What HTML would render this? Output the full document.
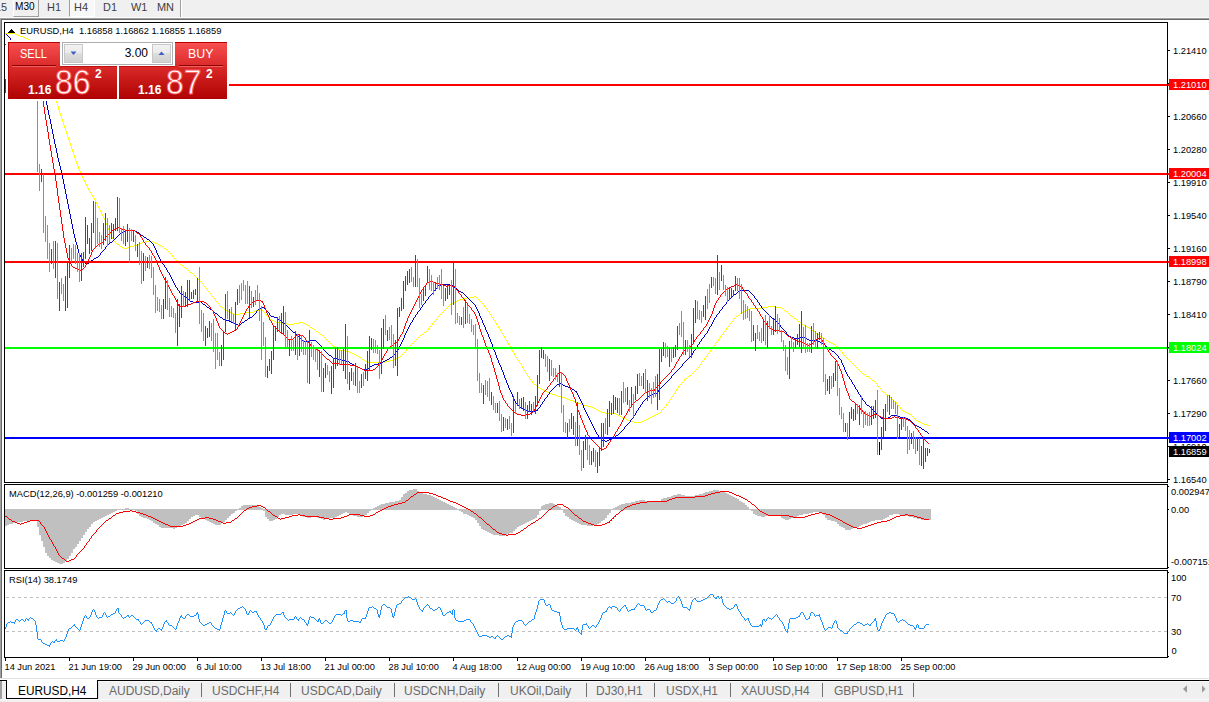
<!DOCTYPE html>
<html><head><meta charset="utf-8"><title>EURUSD,H4</title>
<style>
html,body{margin:0;padding:0;}
body{width:1209px;height:702px;background:#fff;position:relative;overflow:hidden;font-family:"Liberation Sans",sans-serif;}
.abs{position:absolute;}
#tb{left:0;top:0;width:1209px;height:18px;background:#f0f0f0;}
#tb span{position:absolute;top:0.5px;font-size:10.5px;line-height:12px;color:#404040;white-space:nowrap;transform-origin:0 0;transform:scaleX(1.04);}
#m30{left:13px;top:-2px;width:24px;height:17px;border:1px solid;border-color:#fff #a0a0a0 #a0a0a0 #fff;background:#f0f0f0;}
#h4{left:69px;top:-1px;width:24px;height:16px;background:#f8f8f8;border:1px solid;border-color:#a0a0a0 #fff #fff #a0a0a0;}
#chart{left:0;top:0;}
#tabs{left:0;top:679px;width:1209px;height:23px;background:#f0f0f0;}
#tabs span{position:absolute;top:5px;font-size:12px;line-height:14px;color:#6a6a6a;white-space:nowrap;}
#tabs i{position:absolute;top:4px;width:1px;height:14px;background:#707070;}
.pan{background:linear-gradient(#fa5050,#d62626 48%,#b00202);}
.pan b{position:absolute;color:#fff;font-weight:bold;font-size:12px;line-height:12px;}
.pan em{position:absolute;color:#fff;font-style:normal;font-size:34px;line-height:34px;transform-origin:0 0;transform:scaleX(.9);letter-spacing:0px;}
.lbl{position:absolute;color:#fff;font-size:12.5px;line-height:12px;transform-origin:0 0;transform:scaleX(.88);}
</style></head><body>
<div id="tb" class="abs">
  <div id="m30" class="abs"></div><div id="h4" class="abs"></div>
  <span style="left:-5px">15</span>
  <span style="left:15px;top:-0.5px;color:#000;transform:scaleX(.96)">M30</span>
  <span style="left:46.5px">H1</span>
  <span style="left:74px">H4</span>
  <span style="left:103px">D1</span>
  <span style="left:131px">W1</span>
  <span style="left:157px">MN</span>
  <div class="abs" style="left:180px;top:0;width:1px;height:18px;background:#a0a0a0"></div>
  <div class="abs" style="left:181px;top:0;width:1px;height:18px;background:#fff"></div>
</div>
<div class="abs" style="left:0;top:17px;width:1209px;height:1px;background:#fbfbfb"></div>
<div class="abs" style="left:0;top:18px;width:1209px;height:1px;background:#a0a0a0"></div>
<div class="abs" style="left:1px;top:19px;width:1208px;height:1px;background:#696969"></div>
<div class="abs" style="left:0;top:18px;width:1px;height:660px;background:#a0a0a0"></div>
<div class="abs" style="left:1px;top:19px;width:1px;height:659px;background:#696969"></div>
<svg id="chart" class="abs" width="1209" height="702" viewBox="0 0 1209 702">
<defs><clipPath id="cm"><rect x="5" y="23" width="1162" height="459"/></clipPath><clipPath id="cd"><rect x="5" y="485" width="1162" height="83"/></clipPath></defs>
<g clip-path="url(#cm)"><path d="M5.5 33V34M6.5 33V34M7.5 33V34M8.5 33V34M9.5 33V34M10.5 33V34M11.5 33V34M12.5 33V34M13.5 33V34M14.5 33V34M15.5 34V35M16.5 34V35M17.5 35V36M18.5 35V36M19.5 35V36M20.5 36V37M21.5 36V37M22.5 36V37M23.5 37V38M24.5 37V38M25.5 38V39M26.5 38V39M27.5 38V39M28.5 39V40M29.5 39V40M30.5 40V42M31.5 42V44M32.5 44V47M33.5 47V49M34.5 49V51M35.5 51V54M36.5 54V56M37.5 56V58M38.5 58V61M39.5 61V63M40.5 63V65M41.5 65V68M42.5 68V70M43.5 70V72M44.5 72V75M45.5 75V77M46.5 77V79M47.5 79V82M48.5 82V84M49.5 84V86M50.5 86V89M51.5 89V91M52.5 91V93M53.5 93V96M54.5 96V98M55.5 98V101M56.5 101V103M57.5 103V106M58.5 106V110M59.5 110V113M60.5 113V116M61.5 116V119M62.5 119V122M63.5 122V125M64.5 125V128M65.5 128V131M66.5 131V134M67.5 134V137M68.5 137V140M69.5 140V143M70.5 143V146M71.5 146V149M72.5 149V152M73.5 152V155M74.5 155V158M75.5 158V161M76.5 161V164M77.5 164V166M78.5 166V169M79.5 169V171M80.5 171V174M81.5 174V176M82.5 176V178M83.5 178V180M84.5 180V182M85.5 182V184M86.5 184V186M87.5 186V188M88.5 188V190M89.5 190V192M90.5 192V193M91.5 193V195M92.5 195V197M93.5 197V198M94.5 198V200M95.5 200V202M96.5 202V204M97.5 204V206M98.5 206V208M99.5 208V210M100.5 210V212M101.5 212V214M102.5 214V216M103.5 216V218M104.5 218V220M105.5 220V223M106.5 223V225M107.5 225V228M108.5 228V230M109.5 230V232M110.5 232V234M111.5 234V237M112.5 237V239M113.5 239V241M114.5 241V242M115.5 242V243M116.5 243V244M117.5 244V245M118.5 244V245M119.5 245V246M120.5 246V247M121.5 246V247M122.5 247V248M123.5 247V248M124.5 248V249M125.5 248V249M126.5 248V249M127.5 247V248M128.5 247V248M129.5 247V248M130.5 246V247M131.5 246V247M132.5 246V247M133.5 246V247M134.5 245V246M135.5 245V246M136.5 245V246M137.5 244V245M138.5 244V245M139.5 244V245M140.5 243V244M141.5 243V244M142.5 242V243M143.5 242V243M144.5 242V243M145.5 241V242M146.5 241V242M147.5 241V242M148.5 241V242M149.5 241V242M150.5 241V242M151.5 241V242M152.5 241V242M153.5 242V243M154.5 242V243M155.5 243V244M156.5 243V244M157.5 243V244M158.5 244V245M159.5 245V246M160.5 245V246M161.5 246V247M162.5 246V247M163.5 247V248M164.5 248V249M165.5 248V249M166.5 249V250M167.5 250V251M168.5 251V252M169.5 252V253M170.5 253V254M171.5 254V255M172.5 255V257M173.5 257V258M174.5 258V259M175.5 259V260M176.5 260V261M177.5 261V262M178.5 262V263M179.5 263V264M180.5 264V265M181.5 265V266M182.5 265V266M183.5 266V267M184.5 267V268M185.5 268V269M186.5 268V269M187.5 269V270M188.5 270V271M189.5 271V272M190.5 272V273M191.5 272V273M192.5 273V274M193.5 274V275M194.5 275V276M195.5 276V277M196.5 277V278M197.5 278V279M198.5 279V280M199.5 280V281M200.5 281V282M201.5 282V283M202.5 283V284M203.5 284V286M204.5 286V287M205.5 287V288M206.5 288V289M207.5 289V291M208.5 291V292M209.5 292V293M210.5 293V294M211.5 294V296M212.5 296V297M213.5 297V298M214.5 298V299M215.5 299V301M216.5 301V302M217.5 302V303M218.5 303V304M219.5 304V306M220.5 306V307M221.5 307V308M222.5 307V308M223.5 308V309M224.5 309V310M225.5 309V310M226.5 310V311M227.5 310V311M228.5 311V312M229.5 311V312M230.5 312V313M231.5 313V314M232.5 313V314M233.5 314V315M234.5 314V315M235.5 314V315M236.5 314V315M237.5 314V315M238.5 314V315M239.5 314V315M240.5 313V314M241.5 313V314M242.5 313V314M243.5 313V314M244.5 313V314M245.5 313V314M246.5 312V313M247.5 312V313M248.5 312V313M249.5 312V313M250.5 312V313M251.5 312V313M252.5 312V313M253.5 312V313M254.5 311V312M255.5 311V312M256.5 310V311M257.5 310V311M258.5 310V311M259.5 309V310M260.5 309V310M261.5 309V310M262.5 310V311M263.5 311V312M264.5 312V313M265.5 313V314M266.5 314V316M267.5 316V317M268.5 317V318M269.5 318V319M270.5 319V320M271.5 319V320M272.5 320V321M273.5 320V321M274.5 321V322M275.5 321V322M276.5 322V323M277.5 322V323M278.5 322V323M279.5 322V323M280.5 322V323M281.5 322V323M282.5 323V324M283.5 323V324M284.5 323V324M285.5 323V324M286.5 323V324M287.5 324V325M288.5 324V325M289.5 324V325M290.5 324V325M291.5 324V325M292.5 324V325M293.5 324V325M294.5 323V324M295.5 323V324M296.5 323V324M297.5 323V324M298.5 323V324M299.5 322V323M300.5 322V323M301.5 322V323M302.5 322V323M303.5 323V324M304.5 323V324M305.5 324V325M306.5 324V325M307.5 325V326M308.5 325V326M309.5 326V327M310.5 327V328M311.5 327V328M312.5 328V329M313.5 328V329M314.5 329V330M315.5 330V331M316.5 331V332M317.5 331V332M318.5 332V333M319.5 333V334M320.5 334V335M321.5 334V335M322.5 335V336M323.5 336V337M324.5 337V338M325.5 338V339M326.5 339V340M327.5 340V341M328.5 341V342M329.5 342V343M330.5 343V344M331.5 344V345M332.5 345V346M333.5 346V347M334.5 346V347M335.5 347V348M336.5 348V349M337.5 349V350M338.5 349V350M339.5 350V351M340.5 350V351M341.5 350V351M342.5 350V351M343.5 350V351M344.5 350V351M345.5 351V352M346.5 351V352M347.5 351V352M348.5 351V352M349.5 352V353M350.5 352V353M351.5 353V354M352.5 353V354M353.5 353V354M354.5 354V355M355.5 354V355M356.5 355V356M357.5 355V356M358.5 356V357M359.5 357V358M360.5 357V358M361.5 358V359M362.5 359V360M363.5 359V360M364.5 360V361M365.5 361V362M366.5 361V362M367.5 362V363M368.5 362V363M369.5 362V363M370.5 362V363M371.5 362V363M372.5 362V363M373.5 362V363M374.5 362V363M375.5 362V363M376.5 362V363M377.5 362V363M378.5 362V363M379.5 362V363M380.5 362V363M381.5 362V363M382.5 362V363M383.5 362V363M384.5 362V363M385.5 361V362M386.5 361V362M387.5 361V362M388.5 361V362M389.5 360V361M390.5 360V361M391.5 360V361M392.5 360V361M393.5 359V360M394.5 359V360M395.5 359V360M396.5 358V359M397.5 358V359M398.5 357V358M399.5 357V358M400.5 356V357M401.5 355V356M402.5 354V355M403.5 353V354M404.5 352V353M405.5 351V352M406.5 349V351M407.5 348V349M408.5 347V348M409.5 346V347M410.5 345V346M411.5 344V345M412.5 343V344M413.5 342V343M414.5 341V342M415.5 340V341M416.5 339V340M417.5 338V339M418.5 337V338M419.5 336V337M420.5 335V336M421.5 334V335M422.5 334V335M423.5 333V334M424.5 332V333M425.5 332V333M426.5 331V332M427.5 330V331M428.5 328V330M429.5 327V328M430.5 326V327M431.5 325V326M432.5 323V325M433.5 322V323M434.5 321V322M435.5 320V321M436.5 319V320M437.5 317V319M438.5 316V317M439.5 315V316M440.5 314V315M441.5 313V314M442.5 312V313M443.5 311V312M444.5 310V311M445.5 309V310M446.5 308V309M447.5 307V308M448.5 306V307M449.5 305V306M450.5 304V305M451.5 304V305M452.5 303V304M453.5 302V303M454.5 302V303M455.5 301V302M456.5 301V302M457.5 300V301M458.5 300V301M459.5 299V300M460.5 299V300M461.5 299V300M462.5 299V300M463.5 299V300M464.5 298V299M465.5 298V299M466.5 298V299M467.5 298V299M468.5 298V299M469.5 297V298M470.5 297V298M471.5 297V298M472.5 297V298M473.5 297V298M474.5 296V297M475.5 296V297M476.5 297V298M477.5 298V299M478.5 299V300M479.5 300V301M480.5 301V302M481.5 302V303M482.5 303V304M483.5 304V305M484.5 305V307M485.5 307V308M486.5 308V309M487.5 309V311M488.5 311V312M489.5 312V314M490.5 314V315M491.5 315V317M492.5 317V318M493.5 318V320M494.5 320V321M495.5 321V323M496.5 323V325M497.5 325V326M498.5 326V328M499.5 328V329M500.5 329V331M501.5 331V333M502.5 333V334M503.5 334V336M504.5 336V338M505.5 338V340M506.5 340V341M507.5 341V343M508.5 343V345M509.5 345V346M510.5 346V348M511.5 348V350M512.5 350V352M513.5 352V353M514.5 353V355M515.5 355V357M516.5 357V358M517.5 358V360M518.5 360V361M519.5 361V363M520.5 363V364M521.5 364V366M522.5 366V368M523.5 368V370M524.5 370V371M525.5 371V373M526.5 373V374M527.5 374V376M528.5 376V377M529.5 377V379M530.5 379V380M531.5 380V381M532.5 381V383M533.5 383V384M534.5 384V385M535.5 384V385M536.5 385V386M537.5 386V387M538.5 387V388M539.5 387V388M540.5 388V389M541.5 389V390M542.5 389V390M543.5 390V391M544.5 390V391M545.5 391V392M546.5 391V392M547.5 392V393M548.5 392V393M549.5 392V393M550.5 393V394M551.5 393V394M552.5 394V395M553.5 394V395M554.5 394V395M555.5 395V396M556.5 395V396M557.5 396V397M558.5 396V397M559.5 396V397M560.5 396V397M561.5 397V398M562.5 397V398M563.5 397V398M564.5 397V398M565.5 398V399M566.5 398V399M567.5 399V400M568.5 399V400M569.5 399V400M570.5 400V401M571.5 400V401M572.5 400V401M573.5 401V402M574.5 401V402M575.5 401V402M576.5 402V403M577.5 402V403M578.5 403V404M579.5 403V404M580.5 403V404M581.5 404V405M582.5 404V405M583.5 404V405M584.5 405V406M585.5 405V406M586.5 405V406M587.5 406V407M588.5 406V407M589.5 406V407M590.5 406V407M591.5 407V408M592.5 407V408M593.5 407V408M594.5 408V409M595.5 408V409M596.5 409V410M597.5 410V411M598.5 410V411M599.5 411V412M600.5 411V412M601.5 412V413M602.5 412V413M603.5 412V413M604.5 412V413M605.5 413V414M606.5 413V414M607.5 413V414M608.5 413V414M609.5 413V414M610.5 413V414M611.5 413V414M612.5 413V414M613.5 413V414M614.5 413V414M615.5 413V414M616.5 414V415M617.5 414V415M618.5 415V416M619.5 415V416M620.5 416V417M621.5 416V417M622.5 417V418M623.5 417V418M624.5 418V419M625.5 418V419M626.5 419V420M627.5 419V420M628.5 420V421M629.5 420V421M630.5 420V421M631.5 421V422M632.5 421V422M633.5 421V422M634.5 422V423M635.5 422V423M636.5 422V423M637.5 422V423M638.5 422V423M639.5 422V423M640.5 422V423M641.5 421V422M642.5 421V422M643.5 421V422M644.5 420V421M645.5 420V421M646.5 419V420M647.5 419V420M648.5 418V419M649.5 418V419M650.5 417V418M651.5 417V418M652.5 416V417M653.5 416V417M654.5 415V416M655.5 415V416M656.5 414V415M657.5 414V415M658.5 413V414M659.5 413V414M660.5 412V413M661.5 410V412M662.5 409V410M663.5 408V409M664.5 407V408M665.5 406V407M666.5 404V406M667.5 403V404M668.5 402V403M669.5 400V402M670.5 399V400M671.5 397V399M672.5 396V397M673.5 394V396M674.5 393V394M675.5 391V393M676.5 389V391M677.5 388V389M678.5 386V388M679.5 385V386M680.5 384V385M681.5 383V384M682.5 382V383M683.5 381V382M684.5 379V381M685.5 378V379M686.5 378V379M687.5 377V378M688.5 376V377M689.5 375V376M690.5 375V376M691.5 374V375M692.5 373V374M693.5 372V373M694.5 371V372M695.5 370V371M696.5 369V370M697.5 368V369M698.5 367V368M699.5 365V367M700.5 364V365M701.5 362V364M702.5 361V362M703.5 360V361M704.5 358V360M705.5 357V358M706.5 356V357M707.5 354V356M708.5 353V354M709.5 352V353M710.5 350V352M711.5 349V350M712.5 348V349M713.5 346V348M714.5 345V346M715.5 343V345M716.5 342V343M717.5 341V342M718.5 339V341M719.5 338V339M720.5 336V338M721.5 335V336M722.5 334V335M723.5 332V334M724.5 331V332M725.5 330V331M726.5 328V330M727.5 327V328M728.5 326V327M729.5 324V326M730.5 323V324M731.5 322V323M732.5 321V322M733.5 319V321M734.5 318V319M735.5 317V318M736.5 316V317M737.5 316V317M738.5 315V316M739.5 314V315M740.5 313V314M741.5 312V313M742.5 312V313M743.5 311V312M744.5 311V312M745.5 310V311M746.5 310V311M747.5 309V310M748.5 309V310M749.5 309V310M750.5 308V309M751.5 308V309M752.5 308V309M753.5 308V309M754.5 308V309M755.5 308V309M756.5 308V309M757.5 308V309M758.5 308V309M759.5 308V309M760.5 308V309M761.5 307V308M762.5 307V308M763.5 307V308M764.5 307V308M765.5 307V308M766.5 307V308M767.5 307V308M768.5 306V307M769.5 306V307M770.5 306V307M771.5 306V307M772.5 306V307M773.5 306V307M774.5 306V307M775.5 307V308M776.5 307V308M777.5 307V308M778.5 307V308M779.5 307V308M780.5 307V308M781.5 308V309M782.5 308V309M783.5 309V310M784.5 310V311M785.5 311V312M786.5 311V312M787.5 312V313M788.5 313V314M789.5 314V315M790.5 315V316M791.5 316V317M792.5 316V317M793.5 317V318M794.5 318V319M795.5 318V319M796.5 319V320M797.5 320V321M798.5 321V322M799.5 321V322M800.5 322V323M801.5 323V324M802.5 324V325M803.5 324V325M804.5 325V326M805.5 326V327M806.5 326V327M807.5 327V328M808.5 327V328M809.5 328V329M810.5 328V329M811.5 329V330M812.5 330V331M813.5 331V332M814.5 331V332M815.5 332V333M816.5 333V334M817.5 334V335M818.5 334V335M819.5 335V336M820.5 336V337M821.5 337V338M822.5 337V338M823.5 338V339M824.5 338V339M825.5 339V340M826.5 340V341M827.5 340V341M828.5 341V342M829.5 342V343M830.5 342V343M831.5 343V344M832.5 343V344M833.5 344V345M834.5 344V345M835.5 345V346M836.5 346V347M837.5 347V348M838.5 348V349M839.5 349V350M840.5 350V351M841.5 351V352M842.5 352V354M843.5 354V355M844.5 355V356M845.5 356V357M846.5 357V358M847.5 358V359M848.5 359V360M849.5 360V361M850.5 361V362M851.5 362V363M852.5 363V364M853.5 364V365M854.5 365V366M855.5 366V367M856.5 367V368M857.5 368V369M858.5 369V370M859.5 370V371M860.5 371V372M861.5 372V373M862.5 373V374M863.5 374V375M864.5 374V375M865.5 375V376M866.5 376V377M867.5 376V377M868.5 376V377M869.5 377V378M870.5 378V379M871.5 379V380M872.5 380V381M873.5 380V381M874.5 381V382M875.5 382V383M876.5 383V384M877.5 384V386M878.5 386V387M879.5 387V388M880.5 388V389M881.5 389V391M882.5 391V392M883.5 392V393M884.5 392V393M885.5 393V394M886.5 394V395M887.5 395V396M888.5 395V396M889.5 396V397M890.5 397V398M891.5 398V399M892.5 399V400M893.5 400V401M894.5 401V402M895.5 401V402M896.5 402V404M897.5 404V405M898.5 405V406M899.5 406V407M900.5 407V409M901.5 409V410M902.5 410V411M903.5 411V412M904.5 411V412M905.5 412V413M906.5 412V413M907.5 413V414M908.5 413V414M909.5 414V415M910.5 414V415M911.5 415V416M912.5 416V417M913.5 417V418M914.5 418V419M915.5 419V420M916.5 420V421M917.5 420V421M918.5 421V422M919.5 421V422M920.5 422V423M921.5 422V423M922.5 423V424M923.5 423V424M924.5 424V425M925.5 424V425M926.5 424V425M927.5 425V426M928.5 425V426" stroke="#ffff00" stroke-width="1" fill="none" shape-rendering="crispEdges"/></g>
<g clip-path="url(#cm)"><path d="M6.5 34V35M7.5 35V36M8.5 36V37M9.5 37V38M10.5 38V40M11.5 40V41M12.5 41V43M13.5 43V45M14.5 45V46M15.5 46V48M16.5 48V50M17.5 50V52M18.5 52V53M19.5 53V55M20.5 55V57M21.5 57V59M22.5 59V60M23.5 60V62M24.5 62V64M25.5 64V66M26.5 66V67M27.5 67V69M28.5 69V71M29.5 71V73M30.5 73V74M31.5 74V76M32.5 76V78M33.5 78V80M34.5 80V81M35.5 81V83M36.5 83V85M37.5 85V87M38.5 87V88M39.5 88V90M40.5 90V92M41.5 92V94M42.5 94V95M43.5 95V97M44.5 97V99M45.5 99V101M46.5 101V105M47.5 105V110M48.5 110V115M49.5 115V119M50.5 119V124M51.5 124V129M52.5 129V134M53.5 134V139M54.5 139V144M55.5 144V148M56.5 148V153M57.5 153V158M58.5 158V162M59.5 162V166M60.5 166V170M61.5 170V174M62.5 174V179M63.5 179V184M64.5 184V189M65.5 189V194M66.5 194V199M67.5 199V204M68.5 204V209M69.5 209V214M70.5 214V219M71.5 219V224M72.5 224V229M73.5 229V234M74.5 234V238M75.5 238V242M76.5 242V245M77.5 245V249M78.5 249V253M79.5 253V255M80.5 255V257M81.5 257V259M82.5 259V261M83.5 261V262M84.5 262V263M85.5 263V264M86.5 264V265M87.5 263V264M88.5 263V264M89.5 262V263M90.5 261V262M91.5 260V261M92.5 260V261M93.5 259V260M94.5 258V259M95.5 258V259M96.5 257V258M97.5 257V258M98.5 256V257M99.5 255V256M100.5 253V255M101.5 252V253M102.5 251V252M103.5 250V251M104.5 249V250M105.5 247V249M106.5 246V247M107.5 245V246M108.5 244V245M109.5 243V244M110.5 242V243M111.5 242V243M112.5 241V242M113.5 240V241M114.5 239V240M115.5 238V239M116.5 237V238M117.5 236V237M118.5 235V236M119.5 234V235M120.5 233V234M121.5 232V233M122.5 232V233M123.5 231V232M124.5 231V232M125.5 230V231M126.5 230V231M127.5 230V231M128.5 230V231M129.5 230V231M130.5 230V231M131.5 229V230M132.5 230V231M133.5 230V231M134.5 230V231M135.5 231V232M136.5 231V232M137.5 232V233M138.5 232V233M139.5 233V234M140.5 234V235M141.5 235V236M142.5 235V236M143.5 236V237M144.5 237V238M145.5 237V238M146.5 238V239M147.5 239V240M148.5 239V240M149.5 240V241M150.5 241V242M151.5 242V243M152.5 243V244M153.5 244V246M154.5 246V248M155.5 248V250M156.5 250V253M157.5 253V255M158.5 255V257M159.5 257V259M160.5 259V261M161.5 261V262M162.5 262V264M163.5 264V265M164.5 265V267M165.5 267V268M166.5 268V270M167.5 270V272M168.5 272V273M169.5 273V275M170.5 275V277M171.5 277V279M172.5 279V281M173.5 281V283M174.5 283V285M175.5 285V287M176.5 287V288M177.5 288V290M178.5 290V291M179.5 291V293M180.5 293V294M181.5 293V294M182.5 294V295M183.5 295V296M184.5 296V297M185.5 296V297M186.5 297V298M187.5 298V299M188.5 299V300M189.5 300V301M190.5 301V302M191.5 301V302M192.5 301V302M193.5 302V303M194.5 302V303M195.5 302V303M196.5 302V303M197.5 302V303M198.5 302V303M199.5 301V302M200.5 301V302M201.5 302V303M202.5 303V304M203.5 304V305M204.5 304V305M205.5 305V306M206.5 306V307M207.5 307V308M208.5 307V308M209.5 308V309M210.5 309V310M211.5 309V310M212.5 310V311M213.5 311V312M214.5 312V313M215.5 313V314M216.5 313V314M217.5 314V315M218.5 315V316M219.5 316V317M220.5 317V318M221.5 317V318M222.5 318V319M223.5 319V320M224.5 319V320M225.5 320V321M226.5 320V321M227.5 320V321M228.5 320V321M229.5 321V322M230.5 321V322M231.5 322V323M232.5 322V323M233.5 322V323M234.5 323V324M235.5 323V324M236.5 324V325M237.5 324V325M238.5 325V326M239.5 325V326M240.5 324V325M241.5 323V324M242.5 322V323M243.5 322V323M244.5 321V322M245.5 320V321M246.5 320V321M247.5 319V320M248.5 318V319M249.5 318V319M250.5 317V318M251.5 317V318M252.5 316V317M253.5 315V316M254.5 314V315M255.5 313V314M256.5 311V313M257.5 310V311M258.5 309V310M259.5 309V310M260.5 308V309M261.5 307V308M262.5 307V308M263.5 307V308M264.5 308V309M265.5 309V310M266.5 310V311M267.5 311V312M268.5 312V313M269.5 313V315M270.5 315V316M271.5 316V317M272.5 316V317M273.5 316V317M274.5 317V318M275.5 317V318M276.5 317V318M277.5 318V319M278.5 319V320M279.5 319V320M280.5 320V321M281.5 321V322M282.5 322V323M283.5 323V324M284.5 323V324M285.5 324V325M286.5 325V326M287.5 326V327M288.5 327V328M289.5 328V329M290.5 329V330M291.5 330V331M292.5 331V332M293.5 332V333M294.5 332V333M295.5 333V334M296.5 334V335M297.5 335V336M298.5 336V337M299.5 337V338M300.5 338V339M301.5 339V340M302.5 340V341M303.5 340V341M304.5 341V342M305.5 341V342M306.5 341V342M307.5 341V342M308.5 341V342M309.5 341V342M310.5 340V341M311.5 340V341M312.5 340V341M313.5 340V341M314.5 340V341M315.5 340V341M316.5 341V342M317.5 342V343M318.5 343V344M319.5 344V345M320.5 345V346M321.5 346V347M322.5 347V349M323.5 349V350M324.5 350V351M325.5 351V352M326.5 352V353M327.5 353V354M328.5 354V355M329.5 355V356M330.5 355V356M331.5 356V357M332.5 357V358M333.5 358V359M334.5 358V359M335.5 358V359M336.5 358V359M337.5 358V359M338.5 359V360M339.5 359V360M340.5 359V360M341.5 360V361M342.5 360V361M343.5 360V361M344.5 360V361M345.5 361V362M346.5 361V362M347.5 361V362M348.5 361V362M349.5 362V363M350.5 363V364M351.5 363V364M352.5 364V365M353.5 364V365M354.5 365V366M355.5 365V366M356.5 366V367M357.5 366V367M358.5 367V368M359.5 367V368M360.5 368V369M361.5 368V369M362.5 369V370M363.5 369V370M364.5 369V370M365.5 369V370M366.5 369V370M367.5 369V370M368.5 368V369M369.5 367V368M370.5 366V367M371.5 366V367M372.5 365V366M373.5 365V366M374.5 364V365M375.5 364V365M376.5 364V365M377.5 364V365M378.5 363V364M379.5 363V364M380.5 363V364M381.5 362V363M382.5 362V363M383.5 361V362M384.5 361V362M385.5 360V361M386.5 360V361M387.5 359V360M388.5 359V360M389.5 358V359M390.5 357V358M391.5 357V358M392.5 356V357M393.5 355V356M394.5 354V355M395.5 352V354M396.5 351V352M397.5 350V351M398.5 348V350M399.5 346V348M400.5 344V346M401.5 342V344M402.5 340V342M403.5 338V340M404.5 335V338M405.5 333V335M406.5 331V333M407.5 329V331M408.5 327V329M409.5 325V327M410.5 323V325M411.5 322V323M412.5 320V322M413.5 318V320M414.5 317V318M415.5 315V317M416.5 314V315M417.5 312V314M418.5 311V312M419.5 310V311M420.5 308V310M421.5 307V308M422.5 305V307M423.5 304V305M424.5 303V304M425.5 301V303M426.5 300V301M427.5 299V300M428.5 297V299M429.5 296V297M430.5 295V296M431.5 294V295M432.5 293V294M433.5 291V293M434.5 290V291M435.5 289V290M436.5 288V289M437.5 286V288M438.5 285V286M439.5 285V286M440.5 285V286M441.5 284V285M442.5 284V285M443.5 284V285M444.5 284V285M445.5 284V285M446.5 284V285M447.5 284V285M448.5 284V285M449.5 284V285M450.5 285V286M451.5 285V286M452.5 285V286M453.5 286V287M454.5 287V288M455.5 288V289M456.5 288V289M457.5 289V290M458.5 290V291M459.5 291V292M460.5 291V292M461.5 292V293M462.5 292V293M463.5 293V294M464.5 294V295M465.5 295V296M466.5 296V297M467.5 297V298M468.5 298V299M469.5 299V300M470.5 300V301M471.5 301V302M472.5 302V303M473.5 303V304M474.5 304V305M475.5 305V307M476.5 307V309M477.5 309V311M478.5 311V313M479.5 313V316M480.5 316V318M481.5 318V320M482.5 320V323M483.5 323V325M484.5 325V327M485.5 327V330M486.5 330V332M487.5 332V334M488.5 334V337M489.5 337V339M490.5 339V342M491.5 342V344M492.5 344V347M493.5 347V350M494.5 350V352M495.5 352V355M496.5 355V358M497.5 358V360M498.5 360V363M499.5 363V365M500.5 365V367M501.5 367V370M502.5 370V372M503.5 372V375M504.5 375V378M505.5 378V380M506.5 380V383M507.5 383V385M508.5 385V388M509.5 388V390M510.5 390V392M511.5 392V394M512.5 394V397M513.5 397V399M514.5 399V401M515.5 401V403M516.5 403V404M517.5 404V405M518.5 405V406M519.5 406V407M520.5 407V408M521.5 407V408M522.5 408V409M523.5 408V409M524.5 409V410M525.5 409V410M526.5 410V411M527.5 410V411M528.5 411V412M529.5 411V412M530.5 411V412M531.5 411V412M532.5 411V412M533.5 411V412M534.5 411V412M535.5 411V412M536.5 410V411M537.5 409V411M538.5 408V409M539.5 407V408M540.5 405V407M541.5 404V405M542.5 402V404M543.5 401V402M544.5 399V401M545.5 398V399M546.5 397V398M547.5 395V397M548.5 394V395M549.5 392V394M550.5 391V392M551.5 390V391M552.5 389V390M553.5 388V389M554.5 387V388M555.5 386V387M556.5 385V386M557.5 384V385M558.5 384V385M559.5 384V385M560.5 383V384M561.5 384V385M562.5 384V385M563.5 385V386M564.5 385V386M565.5 386V387M566.5 386V387M567.5 386V387M568.5 387V388M569.5 387V388M570.5 387V388M571.5 388V389M572.5 389V390M573.5 389V390M574.5 390V391M575.5 391V392M576.5 391V393M577.5 393V395M578.5 395V397M579.5 397V399M580.5 399V401M581.5 401V403M582.5 403V405M583.5 405V408M584.5 408V410M585.5 410V412M586.5 412V414M587.5 414V416M588.5 416V418M589.5 418V420M590.5 420V422M591.5 422V424M592.5 424V426M593.5 426V428M594.5 428V430M595.5 430V432M596.5 432V434M597.5 434V435M598.5 435V437M599.5 437V438M600.5 438V439M601.5 439V440M602.5 440V441M603.5 440V441M604.5 440V441M605.5 441V442M606.5 441V442M607.5 440V441M608.5 440V441M609.5 439V440M610.5 439V440M611.5 438V439M612.5 438V439M613.5 437V438M614.5 437V438M615.5 436V437M616.5 435V436M617.5 435V436M618.5 434V435M619.5 433V434M620.5 432V433M621.5 431V432M622.5 430V431M623.5 429V430M624.5 427V429M625.5 426V427M626.5 425V426M627.5 424V425M628.5 423V424M629.5 422V423M630.5 420V422M631.5 419V420M632.5 418V419M633.5 416V418M634.5 415V416M635.5 413V415M636.5 411V413M637.5 410V411M638.5 408V410M639.5 407V408M640.5 405V407M641.5 404V405M642.5 402V404M643.5 401V402M644.5 400V401M645.5 399V400M646.5 398V399M647.5 397V398M648.5 396V397M649.5 395V396M650.5 395V396M651.5 394V395M652.5 394V395M653.5 394V395M654.5 393V394M655.5 393V394M656.5 393V394M657.5 392V393M658.5 390V392M659.5 389V390M660.5 388V389M661.5 387V388M662.5 386V387M663.5 385V386M664.5 384V385M665.5 383V384M666.5 382V383M667.5 381V382M668.5 380V381M669.5 379V380M670.5 378V379M671.5 376V378M672.5 375V376M673.5 374V375M674.5 373V374M675.5 372V373M676.5 371V372M677.5 370V371M678.5 369V370M679.5 368V369M680.5 367V368M681.5 366V367M682.5 364V366M683.5 363V364M684.5 362V363M685.5 361V362M686.5 360V361M687.5 359V360M688.5 358V359M689.5 357V358M690.5 356V357M691.5 355V356M692.5 353V355M693.5 351V353M694.5 350V351M695.5 348V350M696.5 347V348M697.5 345V347M698.5 344V345M699.5 342V344M700.5 341V342M701.5 339V341M702.5 338V339M703.5 337V338M704.5 335V337M705.5 334V335M706.5 333V334M707.5 331V333M708.5 329V331M709.5 327V329M710.5 326V327M711.5 324V326M712.5 322V324M713.5 320V322M714.5 318V320M715.5 317V318M716.5 315V317M717.5 314V315M718.5 313V314M719.5 311V313M720.5 310V311M721.5 309V310M722.5 307V309M723.5 306V307M724.5 305V306M725.5 304V305M726.5 302V304M727.5 301V302M728.5 300V301M729.5 299V300M730.5 298V299M731.5 297V298M732.5 296V297M733.5 295V296M734.5 294V295M735.5 294V295M736.5 293V294M737.5 292V293M738.5 291V292M739.5 291V292M740.5 290V291M741.5 290V291M742.5 290V291M743.5 290V291M744.5 290V291M745.5 290V291M746.5 290V291M747.5 290V291M748.5 290V291M749.5 291V292M750.5 292V293M751.5 293V294M752.5 294V295M753.5 295V296M754.5 296V298M755.5 298V299M756.5 299V300M757.5 300V302M758.5 302V303M759.5 303V305M760.5 305V306M761.5 306V308M762.5 308V309M763.5 309V310M764.5 310V311M765.5 311V312M766.5 312V313M767.5 313V314M768.5 314V315M769.5 315V316M770.5 316V317M771.5 317V318M772.5 318V319M773.5 318V319M774.5 319V320M775.5 320V321M776.5 321V322M777.5 322V323M778.5 323V324M779.5 324V325M780.5 325V327M781.5 327V328M782.5 328V329M783.5 329V330M784.5 330V331M785.5 331V332M786.5 332V334M787.5 334V335M788.5 335V336M789.5 336V337M790.5 336V337M791.5 337V338M792.5 337V338M793.5 337V338M794.5 338V339M795.5 338V339M796.5 338V339M797.5 338V339M798.5 338V339M799.5 338V339M800.5 337V338M801.5 337V338M802.5 337V338M803.5 337V338M804.5 337V338M805.5 338V339M806.5 338V339M807.5 339V340M808.5 339V340M809.5 340V341M810.5 340V341M811.5 340V341M812.5 340V341M813.5 340V341M814.5 340V341M815.5 340V341M816.5 340V341M817.5 340V341M818.5 341V342M819.5 341V342M820.5 342V343M821.5 342V343M822.5 343V344M823.5 344V345M824.5 344V345M825.5 345V346M826.5 346V347M827.5 347V348M828.5 348V349M829.5 349V350M830.5 349V350M831.5 350V351M832.5 351V352M833.5 351V352M834.5 352V353M835.5 353V354M836.5 354V355M837.5 355V356M838.5 356V358M839.5 358V359M840.5 359V360M841.5 360V363M842.5 363V365M843.5 365V367M844.5 367V370M845.5 370V372M846.5 372V374M847.5 374V376M848.5 376V377M849.5 377V379M850.5 379V380M851.5 380V382M852.5 382V384M853.5 384V385M854.5 385V387M855.5 387V389M856.5 389V390M857.5 390V392M858.5 392V394M859.5 394V395M860.5 395V397M861.5 397V398M862.5 398V400M863.5 400V401M864.5 401V402M865.5 402V404M866.5 404V405M867.5 405V406M868.5 405V406M869.5 406V407M870.5 407V408M871.5 408V409M872.5 409V410M873.5 410V411M874.5 411V412M875.5 412V413M876.5 413V414M877.5 414V415M878.5 415V416M879.5 416V417M880.5 417V418M881.5 418V419M882.5 418V419M883.5 418V419M884.5 418V419M885.5 418V419M886.5 418V419M887.5 418V419M888.5 417V418M889.5 417V418M890.5 416V417M891.5 415V416M892.5 415V416M893.5 415V416M894.5 415V416M895.5 415V416M896.5 415V416M897.5 415V416M898.5 416V417M899.5 416V417M900.5 417V418M901.5 417V418M902.5 417V418M903.5 417V418M904.5 417V418M905.5 418V419M906.5 418V419M907.5 418V419M908.5 419V420M909.5 419V420M910.5 420V421M911.5 421V422M912.5 422V423M913.5 423V424M914.5 424V425M915.5 425V426M916.5 425V426M917.5 426V427M918.5 426V427M919.5 427V428M920.5 427V428M921.5 428V429M922.5 429V430M923.5 429V430M924.5 430V431M925.5 431V432M926.5 431V432M927.5 432V433M928.5 433V434" stroke="#0000cd" stroke-width="1" fill="none" shape-rendering="crispEdges"/></g>
<g clip-path="url(#cm)"><path d="M5.5 44V45M6.5 45V47M7.5 47V48M8.5 48V50M9.5 50V51M10.5 51V53M11.5 53V54M12.5 54V56M13.5 56V57M14.5 57V59M15.5 59V60M16.5 60V62M17.5 62V63M18.5 63V65M19.5 65V66M20.5 66V68M21.5 68V69M22.5 69V71M23.5 71V72M24.5 72V74M25.5 74V75M26.5 75V77M27.5 77V78M28.5 78V80M29.5 80V81M30.5 81V83M31.5 83V84M32.5 84V86M33.5 86V87M34.5 87V89M35.5 89V90M36.5 90V92M37.5 92V93M38.5 93V95M39.5 95V96M40.5 96V98M41.5 98V99M42.5 99V101M43.5 101V107M44.5 107V114M45.5 114V120M46.5 120V126M47.5 126V132M48.5 132V139M49.5 139V145M50.5 145V151M51.5 151V157M52.5 157V163M53.5 163V169M54.5 169V174M55.5 174V181M56.5 181V188M57.5 188V196M58.5 196V203M59.5 203V210M60.5 210V217M61.5 217V224M62.5 224V231M63.5 231V238M64.5 238V243M65.5 243V248M66.5 248V253M67.5 253V258M68.5 258V260M69.5 260V262M70.5 262V264M71.5 264V266M72.5 266V267M73.5 267V268M74.5 267V268M75.5 268V269M76.5 268V269M77.5 269V270M78.5 269V270M79.5 270V271M80.5 270V271M81.5 270V271M82.5 269V270M83.5 268V269M84.5 267V268M85.5 265V267M86.5 263V265M87.5 261V263M88.5 259V261M89.5 257V259M90.5 255V257M91.5 252V255M92.5 250V252M93.5 249V250M94.5 248V249M95.5 247V248M96.5 246V247M97.5 245V246M98.5 244V245M99.5 244V245M100.5 243V244M101.5 242V243M102.5 242V243M103.5 240V242M104.5 239V240M105.5 237V239M106.5 236V237M107.5 235V236M108.5 234V235M109.5 233V234M110.5 232V233M111.5 231V232M112.5 230V231M113.5 230V231M114.5 229V230M115.5 228V229M116.5 228V229M117.5 228V229M118.5 227V228M119.5 228V229M120.5 228V229M121.5 228V229M122.5 229V230M123.5 229V230M124.5 229V230M125.5 230V231M126.5 230V231M127.5 230V231M128.5 230V231M129.5 230V231M130.5 230V231M131.5 230V231M132.5 230V231M133.5 230V231M134.5 230V231M135.5 231V232M136.5 232V233M137.5 233V234M138.5 233V234M139.5 234V235M140.5 235V237M141.5 237V238M142.5 238V240M143.5 240V242M144.5 242V243M145.5 243V245M146.5 245V246M147.5 246V247M148.5 247V248M149.5 248V250M150.5 250V251M151.5 251V253M152.5 253V255M153.5 255V256M154.5 256V258M155.5 258V260M156.5 260V263M157.5 263V265M158.5 265V267M159.5 267V270M160.5 270V272M161.5 272V274M162.5 274V276M163.5 276V278M164.5 278V280M165.5 280V281M166.5 281V283M167.5 283V285M168.5 285V287M169.5 287V289M170.5 289V291M171.5 291V293M172.5 293V295M173.5 295V296M174.5 296V298M175.5 298V300M176.5 300V302M177.5 302V304M178.5 304V306M179.5 306V307M180.5 306V307M181.5 306V307M182.5 306V307M183.5 306V307M184.5 306V307M185.5 306V307M186.5 305V306M187.5 305V306M188.5 304V305M189.5 304V305M190.5 304V305M191.5 303V304M192.5 303V304M193.5 302V303M194.5 302V303M195.5 302V303M196.5 301V302M197.5 301V302M198.5 301V302M199.5 301V302M200.5 301V302M201.5 301V302M202.5 301V302M203.5 301V302M204.5 302V303M205.5 302V303M206.5 303V304M207.5 304V305M208.5 305V306M209.5 306V307M210.5 307V309M211.5 309V310M212.5 310V311M213.5 311V314M214.5 314V316M215.5 316V318M216.5 318V321M217.5 321V323M218.5 323V326M219.5 326V328M220.5 328V329M221.5 329V330M222.5 330V331M223.5 331V332M224.5 332V333M225.5 333V334M226.5 333V334M227.5 334V335M228.5 333V334M229.5 333V334M230.5 332V333M231.5 332V333M232.5 331V332M233.5 331V332M234.5 330V331M235.5 330V331M236.5 329V330M237.5 327V329M238.5 325V327M239.5 323V325M240.5 321V323M241.5 319V321M242.5 317V319M243.5 315V317M244.5 313V315M245.5 311V313M246.5 309V311M247.5 308V309M248.5 306V308M249.5 305V306M250.5 304V305M251.5 303V304M252.5 302V303M253.5 302V303M254.5 301V302M255.5 300V301M256.5 300V301M257.5 300V301M258.5 300V301M259.5 300V301M260.5 300V301M261.5 301V302M262.5 301V303M263.5 303V305M264.5 305V308M265.5 308V310M266.5 310V313M267.5 313V315M268.5 315V317M269.5 317V320M270.5 320V321M271.5 321V323M272.5 323V325M273.5 325V326M274.5 326V327M275.5 327V328M276.5 328V329M277.5 329V330M278.5 330V331M279.5 331V332M280.5 332V333M281.5 333V334M282.5 333V334M283.5 334V335M284.5 335V336M285.5 336V337M286.5 337V338M287.5 338V339M288.5 339V340M289.5 339V340M290.5 339V340M291.5 339V340M292.5 339V340M293.5 338V339M294.5 337V338M295.5 336V337M296.5 335V336M297.5 335V336M298.5 334V335M299.5 334V335M300.5 335V336M301.5 335V336M302.5 335V336M303.5 336V337M304.5 337V338M305.5 338V340M306.5 340V341M307.5 341V342M308.5 342V343M309.5 343V344M310.5 344V346M311.5 346V347M312.5 347V348M313.5 347V348M314.5 348V349M315.5 348V349M316.5 349V350M317.5 349V350M318.5 350V351M319.5 351V352M320.5 352V353M321.5 353V354M322.5 354V355M323.5 355V356M324.5 356V357M325.5 357V358M326.5 358V359M327.5 359V360M328.5 359V360M329.5 360V361M330.5 361V362M331.5 362V363M332.5 363V364M333.5 363V364M334.5 363V364M335.5 363V364M336.5 363V364M337.5 363V364M338.5 363V364M339.5 364V365M340.5 364V365M341.5 364V365M342.5 364V365M343.5 364V365M344.5 364V365M345.5 364V365M346.5 364V365M347.5 364V365M348.5 364V365M349.5 364V365M350.5 365V366M351.5 365V366M352.5 365V366M353.5 365V366M354.5 365V366M355.5 366V367M356.5 366V367M357.5 366V367M358.5 367V368M359.5 367V368M360.5 368V369M361.5 368V369M362.5 369V370M363.5 369V370M364.5 370V371M365.5 370V371M366.5 370V371M367.5 370V371M368.5 370V371M369.5 370V371M370.5 370V371M371.5 370V371M372.5 370V371M373.5 369V370M374.5 369V370M375.5 368V369M376.5 367V368M377.5 366V367M378.5 364V366M379.5 363V364M380.5 362V363M381.5 360V362M382.5 358V360M383.5 356V358M384.5 354V356M385.5 353V354M386.5 351V353M387.5 349V351M388.5 348V349M389.5 347V349M390.5 346V347M391.5 346V347M392.5 345V346M393.5 344V345M394.5 343V344M395.5 343V344M396.5 342V343M397.5 341V342M398.5 339V341M399.5 337V339M400.5 335V337M401.5 334V335M402.5 332V334M403.5 329V332M404.5 326V329M405.5 323V326M406.5 321V323M407.5 318V321M408.5 316V318M409.5 314V316M410.5 312V314M411.5 310V312M412.5 308V310M413.5 306V308M414.5 304V306M415.5 302V304M416.5 300V302M417.5 298V300M418.5 296V298M419.5 294V296M420.5 292V294M421.5 290V292M422.5 289V290M423.5 287V289M424.5 286V287M425.5 285V286M426.5 283V285M427.5 282V283M428.5 282V283M429.5 282V283M430.5 281V282M431.5 281V282M432.5 281V282M433.5 282V283M434.5 282V283M435.5 282V283M436.5 283V284M437.5 283V284M438.5 283V284M439.5 283V284M440.5 284V285M441.5 284V285M442.5 284V285M443.5 285V286M444.5 285V286M445.5 285V286M446.5 286V287M447.5 285V286M448.5 285V286M449.5 285V286M450.5 285V286M451.5 285V286M452.5 286V287M453.5 286V287M454.5 286V287M455.5 287V289M456.5 289V290M457.5 290V291M458.5 291V293M459.5 293V294M460.5 294V295M461.5 295V297M462.5 297V298M463.5 298V299M464.5 299V301M465.5 301V302M466.5 302V303M467.5 303V305M468.5 305V306M469.5 306V307M470.5 307V308M471.5 308V310M472.5 310V311M473.5 311V312M474.5 312V314M475.5 314V316M476.5 316V319M477.5 319V322M478.5 322V325M479.5 325V329M480.5 329V332M481.5 332V335M482.5 335V337M483.5 337V340M484.5 340V343M485.5 343V346M486.5 346V348M487.5 348V350M488.5 350V353M489.5 353V355M490.5 355V358M491.5 358V362M492.5 362V365M493.5 365V368M494.5 368V372M495.5 372V375M496.5 375V379M497.5 379V382M498.5 382V386M499.5 386V390M500.5 390V393M501.5 393V395M502.5 395V398M503.5 398V400M504.5 400V401M505.5 401V403M506.5 403V404M507.5 404V406M508.5 406V407M509.5 407V408M510.5 408V409M511.5 409V410M512.5 410V411M513.5 411V412M514.5 412V413M515.5 413V414M516.5 413V414M517.5 414V415M518.5 414V415M519.5 414V415M520.5 414V415M521.5 415V416M522.5 415V416M523.5 415V416M524.5 415V416M525.5 415V416M526.5 414V415M527.5 414V415M528.5 414V415M529.5 414V415M530.5 413V414M531.5 412V413M532.5 412V413M533.5 411V412M534.5 409V411M535.5 407V409M536.5 405V407M537.5 403V405M538.5 401V403M539.5 399V401M540.5 397V399M541.5 395V397M542.5 393V395M543.5 392V393M544.5 391V392M545.5 390V391M546.5 389V390M547.5 387V389M548.5 386V387M549.5 385V386M550.5 383V385M551.5 382V383M552.5 381V382M553.5 379V381M554.5 378V379M555.5 377V378M556.5 375V377M557.5 374V375M558.5 373V374M559.5 373V374M560.5 372V373M561.5 372V373M562.5 373V374M563.5 374V375M564.5 375V376M565.5 376V378M566.5 378V381M567.5 381V383M568.5 383V385M569.5 385V387M570.5 387V390M571.5 390V392M572.5 392V394M573.5 394V397M574.5 397V399M575.5 399V403M576.5 403V406M577.5 406V410M578.5 410V412M579.5 412V415M580.5 415V418M581.5 418V420M582.5 420V423M583.5 423V425M584.5 425V428M585.5 428V430M586.5 430V432M587.5 432V435M588.5 435V436M589.5 436V437M590.5 437V439M591.5 439V440M592.5 440V441M593.5 441V442M594.5 442V443M595.5 443V444M596.5 444V445M597.5 445V446M598.5 446V447M599.5 447V448M600.5 448V449M601.5 449V450M602.5 449V450M603.5 449V450M604.5 448V449M605.5 448V449M606.5 446V448M607.5 445V446M608.5 443V445M609.5 442V443M610.5 440V442M611.5 439V440M612.5 437V439M613.5 436V437M614.5 434V436M615.5 432V434M616.5 431V432M617.5 429V431M618.5 427V429M619.5 426V427M620.5 424V426M621.5 422V424M622.5 420V422M623.5 418V420M624.5 416V418M625.5 415V416M626.5 413V415M627.5 411V413M628.5 409V411M629.5 408V409M630.5 407V408M631.5 405V407M632.5 404V405M633.5 403V404M634.5 402V403M635.5 401V402M636.5 400V401M637.5 400V401M638.5 399V400M639.5 398V399M640.5 397V398M641.5 396V397M642.5 395V396M643.5 394V395M644.5 393V394M645.5 392V393M646.5 392V393M647.5 391V392M648.5 391V392M649.5 390V391M650.5 390V391M651.5 390V391M652.5 390V391M653.5 390V391M654.5 389V391M655.5 388V389M656.5 387V388M657.5 386V387M658.5 385V386M659.5 384V385M660.5 382V384M661.5 381V382M662.5 380V381M663.5 379V380M664.5 378V379M665.5 377V378M666.5 376V377M667.5 375V376M668.5 374V375M669.5 373V374M670.5 372V373M671.5 370V372M672.5 369V370M673.5 368V369M674.5 366V368M675.5 364V366M676.5 362V364M677.5 361V362M678.5 359V361M679.5 357V359M680.5 356V357M681.5 354V356M682.5 352V354M683.5 351V352M684.5 350V351M685.5 349V350M686.5 348V349M687.5 348V349M688.5 347V348M689.5 346V347M690.5 346V347M691.5 345V346M692.5 344V345M693.5 342V344M694.5 340V342M695.5 339V340M696.5 337V339M697.5 336V337M698.5 335V336M699.5 334V335M700.5 332V334M701.5 331V332M702.5 330V331M703.5 328V330M704.5 327V328M705.5 326V327M706.5 324V326M707.5 322V324M708.5 320V322M709.5 318V320M710.5 316V318M711.5 314V316M712.5 311V314M713.5 308V311M714.5 305V308M715.5 303V305M716.5 301V303M717.5 300V301M718.5 298V300M719.5 297V298M720.5 295V297M721.5 294V295M722.5 293V294M723.5 292V293M724.5 291V292M725.5 290V291M726.5 289V290M727.5 288V289M728.5 288V289M729.5 287V288M730.5 287V288M731.5 286V287M732.5 286V287M733.5 286V287M734.5 285V286M735.5 285V286M736.5 284V285M737.5 285V286M738.5 285V286M739.5 285V286M740.5 286V287M741.5 286V287M742.5 287V289M743.5 289V290M744.5 290V292M745.5 292V293M746.5 293V294M747.5 294V296M748.5 296V298M749.5 298V299M750.5 299V300M751.5 300V302M752.5 302V303M753.5 303V305M754.5 305V306M755.5 306V308M756.5 308V309M757.5 309V311M758.5 311V312M759.5 312V314M760.5 314V316M761.5 316V317M762.5 317V319M763.5 319V321M764.5 321V322M765.5 322V323M766.5 323V325M767.5 325V326M768.5 326V327M769.5 327V328M770.5 328V329M771.5 329V330M772.5 329V330M773.5 330V331M774.5 330V331M775.5 330V331M776.5 330V331M777.5 330V331M778.5 330V331M779.5 330V331M780.5 331V332M781.5 331V332M782.5 331V332M783.5 331V332M784.5 332V333M785.5 333V334M786.5 334V335M787.5 335V336M788.5 336V337M789.5 336V337M790.5 337V338M791.5 338V339M792.5 338V339M793.5 339V340M794.5 339V340M795.5 340V341M796.5 340V341M797.5 341V342M798.5 341V342M799.5 341V342M800.5 341V342M801.5 342V343M802.5 342V343M803.5 342V343M804.5 343V344M805.5 344V345M806.5 344V345M807.5 345V346M808.5 345V346M809.5 344V345M810.5 344V345M811.5 343V344M812.5 343V344M813.5 342V343M814.5 341V342M815.5 340V341M816.5 339V340M817.5 339V340M818.5 338V339M819.5 338V339M820.5 338V339M821.5 338V340M822.5 340V342M823.5 342V343M824.5 343V345M825.5 345V347M826.5 347V348M827.5 348V350M828.5 350V352M829.5 352V353M830.5 353V355M831.5 355V356M832.5 356V357M833.5 357V358M834.5 358V359M835.5 359V360M836.5 360V362M837.5 362V364M838.5 364V366M839.5 366V369M840.5 369V371M841.5 371V374M842.5 374V378M843.5 378V381M844.5 381V385M845.5 385V388M846.5 388V391M847.5 391V393M848.5 393V396M849.5 396V399M850.5 399V400M851.5 400V401M852.5 401V402M853.5 401V402M854.5 402V403M855.5 403V404M856.5 404V405M857.5 405V406M858.5 406V407M859.5 407V408M860.5 408V410M861.5 410V411M862.5 410V412M863.5 412V413M864.5 412V414M865.5 414V415M866.5 414V415M867.5 415V416M868.5 415V416M869.5 416V417M870.5 416V417M871.5 415V416M872.5 415V416M873.5 414V415M874.5 414V415M875.5 414V415M876.5 414V415M877.5 415V416M878.5 415V416M879.5 416V417M880.5 416V417M881.5 417V418M882.5 417V418M883.5 418V419M884.5 418V419M885.5 418V419M886.5 418V419M887.5 418V419M888.5 418V419M889.5 418V419M890.5 418V419M891.5 418V419M892.5 417V418M893.5 417V418M894.5 416V417M895.5 417V418M896.5 417V418M897.5 417V418M898.5 417V418M899.5 418V419M900.5 418V419M901.5 418V419M902.5 418V419M903.5 418V419M904.5 418V419M905.5 418V419M906.5 419V420M907.5 419V420M908.5 420V421M909.5 420V421M910.5 421V422M911.5 422V423M912.5 423V424M913.5 424V425M914.5 425V426M915.5 426V428M916.5 428V429M917.5 429V430M918.5 430V432M919.5 432V433M920.5 433V435M921.5 435V436M922.5 436V437M923.5 437V438M924.5 438V440M925.5 440V441M926.5 441V442M927.5 442V443M928.5 443V444" stroke="#ff0000" stroke-width="1" fill="none" shape-rendering="crispEdges"/></g>
<rect x="5" y="84" width="1164" height="2" fill="#ff0000" shape-rendering="crispEdges"/>
<rect x="5" y="173" width="1164" height="2" fill="#ff0000" shape-rendering="crispEdges"/>
<rect x="5" y="261" width="1164" height="2" fill="#ff0000" shape-rendering="crispEdges"/>
<rect x="5" y="347" width="1164" height="2" fill="#00ff00" shape-rendering="crispEdges"/>
<rect x="5" y="437" width="1164" height="2" fill="#0000ff" shape-rendering="crispEdges"/>
<g clip-path="url(#cm)" shape-rendering="crispEdges">
<path d="M37.5 101V172M39.5 164V191M43.5 174V233M45.5 216V242M47.5 225V259M49.5 243V272M53.5 241V269M57.5 243V299M61.5 278V294M63.5 284V301M71.5 248V262M73.5 244V259M75.5 245V264M77.5 253V272M79.5 253V282M95.5 202V247M97.5 218V244M99.5 232V247M101.5 235V249M107.5 218V246M109.5 225V243M119.5 198V233M121.5 228V241M123.5 226V244M129.5 228V263M131.5 229V241M135.5 235V251M139.5 242V265M141.5 251V284M145.5 256V271M149.5 255V269M151.5 256V278M153.5 267V295M155.5 285V313M157.5 297V311M159.5 299V312M161.5 305V319M167.5 280V310M169.5 298V317M171.5 306V317M173.5 308V318M175.5 313V333M183.5 291V307M199.5 267V324M201.5 310V332M203.5 313V341M211.5 323V341M213.5 319V352M215.5 333V369M217.5 333V360M219.5 352V366M227.5 291V319M231.5 307V322M233.5 314V324M239.5 285V303M241.5 283V300M243.5 280V291M245.5 285V304M247.5 281V304M251.5 291V308M255.5 290V305M257.5 285V300M259.5 293V321M261.5 306V360M263.5 322V346M265.5 337V377M279.5 316V331M285.5 312V349M287.5 330V348M291.5 336V351M293.5 340V351M297.5 334V360M301.5 335V352M303.5 340V355M305.5 341V355M307.5 342V383M311.5 342V357M313.5 345V360M315.5 349V362M317.5 350V370M321.5 351V392M327.5 365V375M329.5 371V382M339.5 350V365M341.5 350V364M347.5 336V384M353.5 372V385M357.5 367V393M359.5 381V393M363.5 372V386M373.5 339V353M375.5 340V353M377.5 345V354M379.5 350V379M385.5 315V335M389.5 327V340M391.5 325V347M393.5 334V368M411.5 267V282M413.5 277V287M417.5 259V287M419.5 278V308M421.5 294V305M429.5 269V290M431.5 275V291M433.5 282V295M437.5 277V289M439.5 275V290M441.5 269V299M443.5 286V306M451.5 280V315M455.5 269V324M457.5 313V323M459.5 316V325M463.5 307V328M467.5 305V323M469.5 314V324M471.5 319V332M473.5 325V335M475.5 324V347M477.5 339V381M479.5 373V393M481.5 383V393M485.5 380V395M487.5 381V397M489.5 378V401M493.5 396V410M495.5 403V413M499.5 401V421M501.5 414V432M505.5 418V428M509.5 416V429M511.5 423V436M515.5 403V414M519.5 399V409M525.5 402V419M533.5 402V411M545.5 354V367M547.5 356V372M551.5 360V376M553.5 368V377M555.5 368V380M557.5 373V382M561.5 372V413M563.5 405V432M565.5 422V433M569.5 419V432M575.5 422V446M579.5 425V455M581.5 450V471M587.5 439V460M589.5 445V465M595.5 450V467M605.5 418V434M619.5 398V415M623.5 382V403M625.5 388V402M629.5 400V412M633.5 394V417M639.5 373V386M641.5 376V386M645.5 369V393M649.5 383V398M651.5 388V404M653.5 382V398M655.5 376V397M665.5 343V358M667.5 346V357M671.5 348V362M679.5 323V335M681.5 311V337M683.5 322V355M687.5 340V352M689.5 345V357M697.5 301V319M699.5 310V320M701.5 311V323M707.5 289V309M709.5 284V303M713.5 277V286M715.5 278V294M719.5 272V290M723.5 275V290M725.5 285V296M727.5 287V302M737.5 278V291M739.5 278V299M741.5 284V314M743.5 300V320M745.5 304V319M747.5 306V318M749.5 309V321M751.5 311V342M757.5 325V339M759.5 332V341M761.5 328V343M765.5 315V345M769.5 315V329M771.5 326V335M777.5 314V334M779.5 318V332M781.5 330V342M783.5 340V351M785.5 345V371M787.5 357V375M791.5 337V348M793.5 342V352M803.5 327V349M805.5 325V353M807.5 343V352M809.5 343V352M813.5 323V345M815.5 331V347M821.5 333V345M823.5 338V382M825.5 374V395M831.5 376V389M837.5 361V396M839.5 388V415M841.5 407V419M843.5 413V432M847.5 423V440M857.5 404V414M861.5 396V414M863.5 411V428M865.5 411V425M867.5 413V426M869.5 412V426M877.5 390V455M887.5 395V412M891.5 397V409M893.5 400V409M895.5 402V414M897.5 405V439M903.5 417V427M905.5 417V431M907.5 426V454M909.5 430V450M913.5 431V449M915.5 437V454M919.5 438V465" stroke="#32cd32" stroke-width="1" fill="none"/>
<path d="M5.5 79V93M41.5 169V182M51.5 249V264M55.5 241V278M59.5 282V311M65.5 276V311M67.5 261V308M69.5 245V278M81.5 253V281M83.5 252V267M85.5 217V259M87.5 225V244M89.5 238V254M91.5 223V251M93.5 201V233M103.5 223V245M105.5 213V241M111.5 223V239M113.5 224V239M115.5 218V231M117.5 197V231M125.5 230V246M127.5 224V242M133.5 231V242M137.5 244V257M143.5 253V281M147.5 257V268M163.5 299V319M165.5 277V309M177.5 299V346M179.5 304V327M181.5 286V318M185.5 292V307M187.5 280V307M189.5 280V301M191.5 292V299M193.5 290V299M195.5 289V295M197.5 278V302M205.5 326V346M207.5 328V338M209.5 321V337M221.5 345V366M223.5 332V360M225.5 294V332M229.5 309V321M235.5 302V331M237.5 289V305M249.5 286V318M253.5 297V307M267.5 366V378M269.5 359V371M271.5 351V374M273.5 326V360M275.5 326V341M277.5 317V332M281.5 313V333M283.5 306V334M289.5 340V356M295.5 331V355M299.5 334V356M309.5 330V384M319.5 350V377M323.5 368V392M325.5 363V378M331.5 366V394M333.5 358V388M335.5 348V369M337.5 347V366M343.5 349V371M345.5 324V379M349.5 372V390M351.5 368V381M355.5 363V386M361.5 374V388M365.5 364V379M367.5 351V381M369.5 336V371M371.5 338V350M381.5 328V374M383.5 319V349M387.5 330V341M395.5 340V366M397.5 308V376M399.5 307V317M401.5 298V311M403.5 281V309M405.5 276V291M407.5 271V285M409.5 269V283M415.5 255V287M423.5 287V301M425.5 286V296M427.5 266V283M435.5 282V291M445.5 288V301M447.5 286V299M449.5 286V295M453.5 262V305M461.5 317V325M465.5 300V324M483.5 385V404M491.5 392V405M497.5 403V413M503.5 417V431M507.5 419V430M513.5 396V433M517.5 392V406M521.5 398V409M523.5 397V411M527.5 405V419M529.5 401V412M531.5 404V415M535.5 396V414M537.5 375V406M539.5 350V384M541.5 347V358M543.5 350V359M549.5 359V381M559.5 365V387M567.5 423V438M571.5 413V429M573.5 416V435M577.5 402V446M583.5 441V468M585.5 435V450M591.5 451V465M593.5 448V462M597.5 452V473M599.5 447V466M601.5 423V451M603.5 423V447M607.5 409V435M609.5 401V427M611.5 403V415M613.5 395V414M615.5 397V410M617.5 398V413M621.5 391V415M627.5 387V405M631.5 387V407M635.5 386V400M637.5 374V394M643.5 373V389M647.5 380V401M657.5 374V410M659.5 349V400M661.5 349V362M663.5 342V356M669.5 348V367M673.5 347V358M675.5 345V357M677.5 326V350M685.5 340V355M691.5 334V358M693.5 308V342M695.5 300V323M703.5 305V317M705.5 296V320M711.5 277V288M717.5 255V295M721.5 265V281M729.5 288V300M731.5 288V297M733.5 290V296M735.5 276V291M753.5 325V341M755.5 333V351M763.5 320V341M767.5 321V348M773.5 319V335M775.5 306V332M789.5 341V379M795.5 339V348M797.5 334V345M799.5 324V347M801.5 311V353M811.5 326V353M817.5 333V349M819.5 332V340M827.5 379V391M829.5 376V394M833.5 373V387M835.5 361V381M845.5 423V432M849.5 412V438M851.5 407V419M853.5 409V421M855.5 404V420M859.5 405V425M871.5 406V425M873.5 406V419M875.5 400V418M881.5 427V450M883.5 409V437M885.5 404V431M889.5 395V415M899.5 424V437M901.5 418V430M911.5 433V444M917.5 437V451M921.5 446V466M923.5 438V469M925.5 448V462M927.5 448V456M929.5 449V453" stroke="#ff0000" stroke-width="1" fill="none"/>
<path d="M879.5 442V455" stroke="#000000" stroke-width="1" fill="none"/>
</g>
<g shape-rendering="crispEdges">
<rect x="5" y="509" width="2" height="17" fill="#c0c0c0"/>
<rect x="7" y="509" width="2" height="16" fill="#c0c0c0"/>
<rect x="9" y="509" width="2" height="15" fill="#c0c0c0"/>
<rect x="11" y="509" width="2" height="15" fill="#c0c0c0"/>
<rect x="13" y="509" width="2" height="14" fill="#c0c0c0"/>
<rect x="15" y="509" width="2" height="14" fill="#c0c0c0"/>
<rect x="17" y="509" width="2" height="13" fill="#c0c0c0"/>
<rect x="19" y="509" width="2" height="13" fill="#c0c0c0"/>
<rect x="21" y="509" width="2" height="13" fill="#c0c0c0"/>
<rect x="23" y="509" width="2" height="12" fill="#c0c0c0"/>
<rect x="25" y="509" width="2" height="12" fill="#c0c0c0"/>
<rect x="27" y="509" width="2" height="12" fill="#c0c0c0"/>
<rect x="29" y="509" width="2" height="12" fill="#c0c0c0"/>
<rect x="31" y="509" width="2" height="12" fill="#c0c0c0"/>
<rect x="33" y="509" width="2" height="12" fill="#c0c0c0"/>
<rect x="35" y="509" width="2" height="12" fill="#c0c0c0"/>
<rect x="37" y="509" width="2" height="18" fill="#c0c0c0"/>
<rect x="39" y="509" width="2" height="26" fill="#c0c0c0"/>
<rect x="41" y="509" width="2" height="32" fill="#c0c0c0"/>
<rect x="43" y="509" width="2" height="38" fill="#c0c0c0"/>
<rect x="45" y="509" width="2" height="44" fill="#c0c0c0"/>
<rect x="47" y="509" width="2" height="47" fill="#c0c0c0"/>
<rect x="49" y="509" width="2" height="49" fill="#c0c0c0"/>
<rect x="51" y="509" width="2" height="51" fill="#c0c0c0"/>
<rect x="53" y="509" width="2" height="52" fill="#c0c0c0"/>
<rect x="55" y="509" width="2" height="53" fill="#c0c0c0"/>
<rect x="57" y="509" width="2" height="54" fill="#c0c0c0"/>
<rect x="59" y="509" width="2" height="55" fill="#c0c0c0"/>
<rect x="61" y="509" width="2" height="55" fill="#c0c0c0"/>
<rect x="63" y="509" width="2" height="54" fill="#c0c0c0"/>
<rect x="65" y="509" width="2" height="52" fill="#c0c0c0"/>
<rect x="67" y="509" width="2" height="50" fill="#c0c0c0"/>
<rect x="69" y="509" width="2" height="47" fill="#c0c0c0"/>
<rect x="71" y="509" width="2" height="44" fill="#c0c0c0"/>
<rect x="73" y="509" width="2" height="40" fill="#c0c0c0"/>
<rect x="75" y="509" width="2" height="38" fill="#c0c0c0"/>
<rect x="77" y="509" width="2" height="35" fill="#c0c0c0"/>
<rect x="79" y="509" width="2" height="32" fill="#c0c0c0"/>
<rect x="81" y="509" width="2" height="29" fill="#c0c0c0"/>
<rect x="83" y="509" width="2" height="26" fill="#c0c0c0"/>
<rect x="85" y="509" width="2" height="23" fill="#c0c0c0"/>
<rect x="87" y="509" width="2" height="20" fill="#c0c0c0"/>
<rect x="89" y="509" width="2" height="18" fill="#c0c0c0"/>
<rect x="91" y="509" width="2" height="15" fill="#c0c0c0"/>
<rect x="93" y="509" width="2" height="13" fill="#c0c0c0"/>
<rect x="95" y="509" width="2" height="12" fill="#c0c0c0"/>
<rect x="97" y="509" width="2" height="11" fill="#c0c0c0"/>
<rect x="99" y="509" width="2" height="10" fill="#c0c0c0"/>
<rect x="101" y="509" width="2" height="9" fill="#c0c0c0"/>
<rect x="103" y="509" width="2" height="8" fill="#c0c0c0"/>
<rect x="105" y="509" width="2" height="7" fill="#c0c0c0"/>
<rect x="107" y="509" width="2" height="6" fill="#c0c0c0"/>
<rect x="109" y="509" width="2" height="5" fill="#c0c0c0"/>
<rect x="111" y="509" width="2" height="4" fill="#c0c0c0"/>
<rect x="113" y="509" width="2" height="3" fill="#c0c0c0"/>
<rect x="115" y="509" width="2" height="2" fill="#c0c0c0"/>
<rect x="117" y="509" width="2" height="1" fill="#c0c0c0"/>
<rect x="119" y="509" width="2" height="1" fill="#c0c0c0"/>
<rect x="121" y="509" width="2" height="1" fill="#c0c0c0"/>
<rect x="123" y="509" width="2" height="1" fill="#c0c0c0"/>
<rect x="125" y="508" width="2" height="2" fill="#c0c0c0"/>
<rect x="127" y="508" width="2" height="2" fill="#c0c0c0"/>
<rect x="129" y="509" width="2" height="1" fill="#c0c0c0"/>
<rect x="131" y="509" width="2" height="1" fill="#c0c0c0"/>
<rect x="133" y="509" width="2" height="1" fill="#c0c0c0"/>
<rect x="135" y="509" width="2" height="2" fill="#c0c0c0"/>
<rect x="137" y="509" width="2" height="5" fill="#c0c0c0"/>
<rect x="139" y="509" width="2" height="7" fill="#c0c0c0"/>
<rect x="141" y="509" width="2" height="8" fill="#c0c0c0"/>
<rect x="143" y="509" width="2" height="9" fill="#c0c0c0"/>
<rect x="145" y="509" width="2" height="9" fill="#c0c0c0"/>
<rect x="147" y="509" width="2" height="10" fill="#c0c0c0"/>
<rect x="149" y="509" width="2" height="11" fill="#c0c0c0"/>
<rect x="151" y="509" width="2" height="12" fill="#c0c0c0"/>
<rect x="153" y="509" width="2" height="14" fill="#c0c0c0"/>
<rect x="155" y="509" width="2" height="15" fill="#c0c0c0"/>
<rect x="157" y="509" width="2" height="16" fill="#c0c0c0"/>
<rect x="159" y="509" width="2" height="18" fill="#c0c0c0"/>
<rect x="161" y="509" width="2" height="19" fill="#c0c0c0"/>
<rect x="163" y="509" width="2" height="19" fill="#c0c0c0"/>
<rect x="165" y="509" width="2" height="19" fill="#c0c0c0"/>
<rect x="167" y="509" width="2" height="19" fill="#c0c0c0"/>
<rect x="169" y="509" width="2" height="19" fill="#c0c0c0"/>
<rect x="171" y="509" width="2" height="19" fill="#c0c0c0"/>
<rect x="173" y="509" width="2" height="20" fill="#c0c0c0"/>
<rect x="175" y="509" width="2" height="19" fill="#c0c0c0"/>
<rect x="177" y="509" width="2" height="18" fill="#c0c0c0"/>
<rect x="179" y="509" width="2" height="17" fill="#c0c0c0"/>
<rect x="181" y="509" width="2" height="16" fill="#c0c0c0"/>
<rect x="183" y="509" width="2" height="15" fill="#c0c0c0"/>
<rect x="185" y="509" width="2" height="14" fill="#c0c0c0"/>
<rect x="187" y="509" width="2" height="12" fill="#c0c0c0"/>
<rect x="189" y="509" width="2" height="10" fill="#c0c0c0"/>
<rect x="191" y="509" width="2" height="8" fill="#c0c0c0"/>
<rect x="193" y="509" width="2" height="7" fill="#c0c0c0"/>
<rect x="195" y="509" width="2" height="6" fill="#c0c0c0"/>
<rect x="197" y="509" width="2" height="6" fill="#c0c0c0"/>
<rect x="199" y="509" width="2" height="8" fill="#c0c0c0"/>
<rect x="201" y="509" width="2" height="9" fill="#c0c0c0"/>
<rect x="203" y="509" width="2" height="10" fill="#c0c0c0"/>
<rect x="205" y="509" width="2" height="11" fill="#c0c0c0"/>
<rect x="207" y="509" width="2" height="12" fill="#c0c0c0"/>
<rect x="209" y="509" width="2" height="13" fill="#c0c0c0"/>
<rect x="211" y="509" width="2" height="14" fill="#c0c0c0"/>
<rect x="213" y="509" width="2" height="15" fill="#c0c0c0"/>
<rect x="215" y="509" width="2" height="16" fill="#c0c0c0"/>
<rect x="217" y="509" width="2" height="16" fill="#c0c0c0"/>
<rect x="219" y="509" width="2" height="16" fill="#c0c0c0"/>
<rect x="221" y="509" width="2" height="14" fill="#c0c0c0"/>
<rect x="223" y="509" width="2" height="13" fill="#c0c0c0"/>
<rect x="225" y="509" width="2" height="11" fill="#c0c0c0"/>
<rect x="227" y="509" width="2" height="9" fill="#c0c0c0"/>
<rect x="229" y="509" width="2" height="7" fill="#c0c0c0"/>
<rect x="231" y="509" width="2" height="5" fill="#c0c0c0"/>
<rect x="233" y="509" width="2" height="4" fill="#c0c0c0"/>
<rect x="235" y="509" width="2" height="2" fill="#c0c0c0"/>
<rect x="237" y="509" width="2" height="1" fill="#c0c0c0"/>
<rect x="239" y="508" width="2" height="2" fill="#c0c0c0"/>
<rect x="241" y="506" width="2" height="4" fill="#c0c0c0"/>
<rect x="243" y="505" width="2" height="5" fill="#c0c0c0"/>
<rect x="245" y="505" width="2" height="5" fill="#c0c0c0"/>
<rect x="247" y="505" width="2" height="5" fill="#c0c0c0"/>
<rect x="249" y="505" width="2" height="5" fill="#c0c0c0"/>
<rect x="251" y="505" width="2" height="5" fill="#c0c0c0"/>
<rect x="253" y="505" width="2" height="5" fill="#c0c0c0"/>
<rect x="255" y="505" width="2" height="5" fill="#c0c0c0"/>
<rect x="257" y="505" width="2" height="5" fill="#c0c0c0"/>
<rect x="259" y="507" width="2" height="3" fill="#c0c0c0"/>
<rect x="261" y="508" width="2" height="2" fill="#c0c0c0"/>
<rect x="263" y="509" width="2" height="2" fill="#c0c0c0"/>
<rect x="265" y="509" width="2" height="8" fill="#c0c0c0"/>
<rect x="267" y="509" width="2" height="10" fill="#c0c0c0"/>
<rect x="269" y="509" width="2" height="12" fill="#c0c0c0"/>
<rect x="271" y="509" width="2" height="12" fill="#c0c0c0"/>
<rect x="273" y="509" width="2" height="11" fill="#c0c0c0"/>
<rect x="275" y="509" width="2" height="10" fill="#c0c0c0"/>
<rect x="277" y="509" width="2" height="8" fill="#c0c0c0"/>
<rect x="279" y="509" width="2" height="6" fill="#c0c0c0"/>
<rect x="281" y="509" width="2" height="5" fill="#c0c0c0"/>
<rect x="283" y="509" width="2" height="5" fill="#c0c0c0"/>
<rect x="285" y="509" width="2" height="6" fill="#c0c0c0"/>
<rect x="287" y="509" width="2" height="6" fill="#c0c0c0"/>
<rect x="289" y="509" width="2" height="6" fill="#c0c0c0"/>
<rect x="291" y="509" width="2" height="6" fill="#c0c0c0"/>
<rect x="293" y="509" width="2" height="5" fill="#c0c0c0"/>
<rect x="295" y="509" width="2" height="5" fill="#c0c0c0"/>
<rect x="297" y="509" width="2" height="5" fill="#c0c0c0"/>
<rect x="299" y="509" width="2" height="6" fill="#c0c0c0"/>
<rect x="301" y="509" width="2" height="7" fill="#c0c0c0"/>
<rect x="303" y="509" width="2" height="8" fill="#c0c0c0"/>
<rect x="305" y="509" width="2" height="8" fill="#c0c0c0"/>
<rect x="307" y="509" width="2" height="9" fill="#c0c0c0"/>
<rect x="309" y="509" width="2" height="9" fill="#c0c0c0"/>
<rect x="311" y="509" width="2" height="8" fill="#c0c0c0"/>
<rect x="313" y="509" width="2" height="8" fill="#c0c0c0"/>
<rect x="315" y="509" width="2" height="8" fill="#c0c0c0"/>
<rect x="317" y="509" width="2" height="9" fill="#c0c0c0"/>
<rect x="319" y="509" width="2" height="9" fill="#c0c0c0"/>
<rect x="321" y="509" width="2" height="10" fill="#c0c0c0"/>
<rect x="323" y="509" width="2" height="11" fill="#c0c0c0"/>
<rect x="325" y="509" width="2" height="10" fill="#c0c0c0"/>
<rect x="327" y="509" width="2" height="10" fill="#c0c0c0"/>
<rect x="329" y="509" width="2" height="9" fill="#c0c0c0"/>
<rect x="331" y="509" width="2" height="9" fill="#c0c0c0"/>
<rect x="333" y="509" width="2" height="9" fill="#c0c0c0"/>
<rect x="335" y="509" width="2" height="8" fill="#c0c0c0"/>
<rect x="337" y="509" width="2" height="7" fill="#c0c0c0"/>
<rect x="339" y="509" width="2" height="6" fill="#c0c0c0"/>
<rect x="341" y="509" width="2" height="5" fill="#c0c0c0"/>
<rect x="343" y="509" width="2" height="4" fill="#c0c0c0"/>
<rect x="345" y="509" width="2" height="3" fill="#c0c0c0"/>
<rect x="347" y="509" width="2" height="4" fill="#c0c0c0"/>
<rect x="349" y="509" width="2" height="5" fill="#c0c0c0"/>
<rect x="351" y="509" width="2" height="6" fill="#c0c0c0"/>
<rect x="353" y="509" width="2" height="7" fill="#c0c0c0"/>
<rect x="355" y="509" width="2" height="7" fill="#c0c0c0"/>
<rect x="357" y="509" width="2" height="8" fill="#c0c0c0"/>
<rect x="359" y="509" width="2" height="8" fill="#c0c0c0"/>
<rect x="361" y="509" width="2" height="8" fill="#c0c0c0"/>
<rect x="363" y="509" width="2" height="7" fill="#c0c0c0"/>
<rect x="365" y="509" width="2" height="6" fill="#c0c0c0"/>
<rect x="367" y="509" width="2" height="4" fill="#c0c0c0"/>
<rect x="369" y="509" width="2" height="2" fill="#c0c0c0"/>
<rect x="371" y="509" width="2" height="1" fill="#c0c0c0"/>
<rect x="373" y="508" width="2" height="2" fill="#c0c0c0"/>
<rect x="375" y="507" width="2" height="3" fill="#c0c0c0"/>
<rect x="377" y="506" width="2" height="4" fill="#c0c0c0"/>
<rect x="379" y="505" width="2" height="5" fill="#c0c0c0"/>
<rect x="381" y="504" width="2" height="6" fill="#c0c0c0"/>
<rect x="383" y="504" width="2" height="6" fill="#c0c0c0"/>
<rect x="385" y="503" width="2" height="7" fill="#c0c0c0"/>
<rect x="387" y="503" width="2" height="7" fill="#c0c0c0"/>
<rect x="389" y="502" width="2" height="8" fill="#c0c0c0"/>
<rect x="391" y="502" width="2" height="8" fill="#c0c0c0"/>
<rect x="393" y="502" width="2" height="8" fill="#c0c0c0"/>
<rect x="395" y="501" width="2" height="9" fill="#c0c0c0"/>
<rect x="397" y="501" width="2" height="9" fill="#c0c0c0"/>
<rect x="399" y="500" width="2" height="10" fill="#c0c0c0"/>
<rect x="401" y="497" width="2" height="13" fill="#c0c0c0"/>
<rect x="403" y="494" width="2" height="16" fill="#c0c0c0"/>
<rect x="405" y="493" width="2" height="17" fill="#c0c0c0"/>
<rect x="407" y="491" width="2" height="19" fill="#c0c0c0"/>
<rect x="409" y="490" width="2" height="20" fill="#c0c0c0"/>
<rect x="411" y="490" width="2" height="20" fill="#c0c0c0"/>
<rect x="413" y="489" width="2" height="21" fill="#c0c0c0"/>
<rect x="415" y="489" width="2" height="21" fill="#c0c0c0"/>
<rect x="417" y="491" width="2" height="19" fill="#c0c0c0"/>
<rect x="419" y="492" width="2" height="18" fill="#c0c0c0"/>
<rect x="421" y="493" width="2" height="17" fill="#c0c0c0"/>
<rect x="423" y="494" width="2" height="16" fill="#c0c0c0"/>
<rect x="425" y="494" width="2" height="16" fill="#c0c0c0"/>
<rect x="427" y="495" width="2" height="15" fill="#c0c0c0"/>
<rect x="429" y="495" width="2" height="15" fill="#c0c0c0"/>
<rect x="431" y="496" width="2" height="14" fill="#c0c0c0"/>
<rect x="433" y="497" width="2" height="13" fill="#c0c0c0"/>
<rect x="435" y="498" width="2" height="12" fill="#c0c0c0"/>
<rect x="437" y="499" width="2" height="11" fill="#c0c0c0"/>
<rect x="439" y="500" width="2" height="10" fill="#c0c0c0"/>
<rect x="441" y="501" width="2" height="9" fill="#c0c0c0"/>
<rect x="443" y="502" width="2" height="8" fill="#c0c0c0"/>
<rect x="445" y="503" width="2" height="7" fill="#c0c0c0"/>
<rect x="447" y="504" width="2" height="6" fill="#c0c0c0"/>
<rect x="449" y="505" width="2" height="5" fill="#c0c0c0"/>
<rect x="451" y="506" width="2" height="4" fill="#c0c0c0"/>
<rect x="453" y="507" width="2" height="3" fill="#c0c0c0"/>
<rect x="455" y="508" width="2" height="2" fill="#c0c0c0"/>
<rect x="457" y="509" width="2" height="1" fill="#c0c0c0"/>
<rect x="459" y="509" width="2" height="2" fill="#c0c0c0"/>
<rect x="461" y="509" width="2" height="3" fill="#c0c0c0"/>
<rect x="463" y="509" width="2" height="5" fill="#c0c0c0"/>
<rect x="465" y="509" width="2" height="5" fill="#c0c0c0"/>
<rect x="467" y="509" width="2" height="6" fill="#c0c0c0"/>
<rect x="469" y="509" width="2" height="7" fill="#c0c0c0"/>
<rect x="471" y="509" width="2" height="8" fill="#c0c0c0"/>
<rect x="473" y="509" width="2" height="9" fill="#c0c0c0"/>
<rect x="475" y="509" width="2" height="11" fill="#c0c0c0"/>
<rect x="477" y="509" width="2" height="14" fill="#c0c0c0"/>
<rect x="479" y="509" width="2" height="17" fill="#c0c0c0"/>
<rect x="481" y="509" width="2" height="20" fill="#c0c0c0"/>
<rect x="483" y="509" width="2" height="21" fill="#c0c0c0"/>
<rect x="485" y="509" width="2" height="22" fill="#c0c0c0"/>
<rect x="487" y="509" width="2" height="23" fill="#c0c0c0"/>
<rect x="489" y="509" width="2" height="24" fill="#c0c0c0"/>
<rect x="491" y="509" width="2" height="25" fill="#c0c0c0"/>
<rect x="493" y="509" width="2" height="26" fill="#c0c0c0"/>
<rect x="495" y="509" width="2" height="26" fill="#c0c0c0"/>
<rect x="497" y="509" width="2" height="26" fill="#c0c0c0"/>
<rect x="499" y="509" width="2" height="27" fill="#c0c0c0"/>
<rect x="501" y="509" width="2" height="27" fill="#c0c0c0"/>
<rect x="503" y="509" width="2" height="27" fill="#c0c0c0"/>
<rect x="505" y="509" width="2" height="26" fill="#c0c0c0"/>
<rect x="507" y="509" width="2" height="25" fill="#c0c0c0"/>
<rect x="509" y="509" width="2" height="24" fill="#c0c0c0"/>
<rect x="511" y="509" width="2" height="24" fill="#c0c0c0"/>
<rect x="513" y="509" width="2" height="22" fill="#c0c0c0"/>
<rect x="515" y="509" width="2" height="20" fill="#c0c0c0"/>
<rect x="517" y="509" width="2" height="18" fill="#c0c0c0"/>
<rect x="519" y="509" width="2" height="17" fill="#c0c0c0"/>
<rect x="521" y="509" width="2" height="16" fill="#c0c0c0"/>
<rect x="523" y="509" width="2" height="15" fill="#c0c0c0"/>
<rect x="525" y="509" width="2" height="14" fill="#c0c0c0"/>
<rect x="527" y="509" width="2" height="13" fill="#c0c0c0"/>
<rect x="529" y="509" width="2" height="12" fill="#c0c0c0"/>
<rect x="531" y="509" width="2" height="11" fill="#c0c0c0"/>
<rect x="533" y="509" width="2" height="10" fill="#c0c0c0"/>
<rect x="535" y="509" width="2" height="9" fill="#c0c0c0"/>
<rect x="537" y="509" width="2" height="6" fill="#c0c0c0"/>
<rect x="539" y="509" width="2" height="2" fill="#c0c0c0"/>
<rect x="541" y="506" width="2" height="4" fill="#c0c0c0"/>
<rect x="543" y="505" width="2" height="5" fill="#c0c0c0"/>
<rect x="545" y="504" width="2" height="6" fill="#c0c0c0"/>
<rect x="547" y="504" width="2" height="6" fill="#c0c0c0"/>
<rect x="549" y="503" width="2" height="7" fill="#c0c0c0"/>
<rect x="551" y="503" width="2" height="7" fill="#c0c0c0"/>
<rect x="553" y="504" width="2" height="6" fill="#c0c0c0"/>
<rect x="555" y="505" width="2" height="5" fill="#c0c0c0"/>
<rect x="557" y="506" width="2" height="4" fill="#c0c0c0"/>
<rect x="559" y="507" width="2" height="3" fill="#c0c0c0"/>
<rect x="561" y="509" width="2" height="1" fill="#c0c0c0"/>
<rect x="563" y="509" width="2" height="4" fill="#c0c0c0"/>
<rect x="565" y="509" width="2" height="7" fill="#c0c0c0"/>
<rect x="567" y="509" width="2" height="8" fill="#c0c0c0"/>
<rect x="569" y="509" width="2" height="10" fill="#c0c0c0"/>
<rect x="571" y="509" width="2" height="11" fill="#c0c0c0"/>
<rect x="573" y="509" width="2" height="12" fill="#c0c0c0"/>
<rect x="575" y="509" width="2" height="13" fill="#c0c0c0"/>
<rect x="577" y="509" width="2" height="14" fill="#c0c0c0"/>
<rect x="579" y="509" width="2" height="15" fill="#c0c0c0"/>
<rect x="581" y="509" width="2" height="16" fill="#c0c0c0"/>
<rect x="583" y="509" width="2" height="16" fill="#c0c0c0"/>
<rect x="585" y="509" width="2" height="16" fill="#c0c0c0"/>
<rect x="587" y="509" width="2" height="17" fill="#c0c0c0"/>
<rect x="589" y="509" width="2" height="17" fill="#c0c0c0"/>
<rect x="591" y="509" width="2" height="17" fill="#c0c0c0"/>
<rect x="593" y="509" width="2" height="16" fill="#c0c0c0"/>
<rect x="595" y="509" width="2" height="16" fill="#c0c0c0"/>
<rect x="597" y="509" width="2" height="15" fill="#c0c0c0"/>
<rect x="599" y="509" width="2" height="14" fill="#c0c0c0"/>
<rect x="601" y="509" width="2" height="12" fill="#c0c0c0"/>
<rect x="603" y="509" width="2" height="11" fill="#c0c0c0"/>
<rect x="605" y="509" width="2" height="9" fill="#c0c0c0"/>
<rect x="607" y="509" width="2" height="6" fill="#c0c0c0"/>
<rect x="609" y="509" width="2" height="4" fill="#c0c0c0"/>
<rect x="611" y="509" width="2" height="1" fill="#c0c0c0"/>
<rect x="613" y="508" width="2" height="2" fill="#c0c0c0"/>
<rect x="615" y="507" width="2" height="3" fill="#c0c0c0"/>
<rect x="617" y="506" width="2" height="4" fill="#c0c0c0"/>
<rect x="619" y="505" width="2" height="5" fill="#c0c0c0"/>
<rect x="621" y="504" width="2" height="6" fill="#c0c0c0"/>
<rect x="623" y="504" width="2" height="6" fill="#c0c0c0"/>
<rect x="625" y="503" width="2" height="7" fill="#c0c0c0"/>
<rect x="627" y="503" width="2" height="7" fill="#c0c0c0"/>
<rect x="629" y="503" width="2" height="7" fill="#c0c0c0"/>
<rect x="631" y="502" width="2" height="8" fill="#c0c0c0"/>
<rect x="633" y="502" width="2" height="8" fill="#c0c0c0"/>
<rect x="635" y="501" width="2" height="9" fill="#c0c0c0"/>
<rect x="637" y="501" width="2" height="9" fill="#c0c0c0"/>
<rect x="639" y="500" width="2" height="10" fill="#c0c0c0"/>
<rect x="641" y="500" width="2" height="10" fill="#c0c0c0"/>
<rect x="643" y="500" width="2" height="10" fill="#c0c0c0"/>
<rect x="645" y="501" width="2" height="9" fill="#c0c0c0"/>
<rect x="647" y="501" width="2" height="9" fill="#c0c0c0"/>
<rect x="649" y="502" width="2" height="8" fill="#c0c0c0"/>
<rect x="651" y="502" width="2" height="8" fill="#c0c0c0"/>
<rect x="653" y="502" width="2" height="8" fill="#c0c0c0"/>
<rect x="655" y="502" width="2" height="8" fill="#c0c0c0"/>
<rect x="657" y="502" width="2" height="8" fill="#c0c0c0"/>
<rect x="659" y="501" width="2" height="9" fill="#c0c0c0"/>
<rect x="661" y="499" width="2" height="11" fill="#c0c0c0"/>
<rect x="663" y="498" width="2" height="12" fill="#c0c0c0"/>
<rect x="665" y="498" width="2" height="12" fill="#c0c0c0"/>
<rect x="667" y="497" width="2" height="13" fill="#c0c0c0"/>
<rect x="669" y="497" width="2" height="13" fill="#c0c0c0"/>
<rect x="671" y="496" width="2" height="14" fill="#c0c0c0"/>
<rect x="673" y="495" width="2" height="15" fill="#c0c0c0"/>
<rect x="675" y="495" width="2" height="15" fill="#c0c0c0"/>
<rect x="677" y="494" width="2" height="16" fill="#c0c0c0"/>
<rect x="679" y="494" width="2" height="16" fill="#c0c0c0"/>
<rect x="681" y="495" width="2" height="15" fill="#c0c0c0"/>
<rect x="683" y="495" width="2" height="15" fill="#c0c0c0"/>
<rect x="685" y="496" width="2" height="14" fill="#c0c0c0"/>
<rect x="687" y="496" width="2" height="14" fill="#c0c0c0"/>
<rect x="689" y="496" width="2" height="14" fill="#c0c0c0"/>
<rect x="691" y="496" width="2" height="14" fill="#c0c0c0"/>
<rect x="693" y="496" width="2" height="14" fill="#c0c0c0"/>
<rect x="695" y="495" width="2" height="15" fill="#c0c0c0"/>
<rect x="697" y="495" width="2" height="15" fill="#c0c0c0"/>
<rect x="699" y="494" width="2" height="16" fill="#c0c0c0"/>
<rect x="701" y="494" width="2" height="16" fill="#c0c0c0"/>
<rect x="703" y="493" width="2" height="17" fill="#c0c0c0"/>
<rect x="705" y="492" width="2" height="18" fill="#c0c0c0"/>
<rect x="707" y="492" width="2" height="18" fill="#c0c0c0"/>
<rect x="709" y="491" width="2" height="19" fill="#c0c0c0"/>
<rect x="711" y="491" width="2" height="19" fill="#c0c0c0"/>
<rect x="713" y="490" width="2" height="20" fill="#c0c0c0"/>
<rect x="715" y="490" width="2" height="20" fill="#c0c0c0"/>
<rect x="717" y="490" width="2" height="20" fill="#c0c0c0"/>
<rect x="719" y="491" width="2" height="19" fill="#c0c0c0"/>
<rect x="721" y="491" width="2" height="19" fill="#c0c0c0"/>
<rect x="723" y="492" width="2" height="18" fill="#c0c0c0"/>
<rect x="725" y="493" width="2" height="17" fill="#c0c0c0"/>
<rect x="727" y="494" width="2" height="16" fill="#c0c0c0"/>
<rect x="729" y="495" width="2" height="15" fill="#c0c0c0"/>
<rect x="731" y="496" width="2" height="14" fill="#c0c0c0"/>
<rect x="733" y="497" width="2" height="13" fill="#c0c0c0"/>
<rect x="735" y="498" width="2" height="12" fill="#c0c0c0"/>
<rect x="737" y="499" width="2" height="11" fill="#c0c0c0"/>
<rect x="739" y="501" width="2" height="9" fill="#c0c0c0"/>
<rect x="741" y="502" width="2" height="8" fill="#c0c0c0"/>
<rect x="743" y="503" width="2" height="7" fill="#c0c0c0"/>
<rect x="745" y="505" width="2" height="5" fill="#c0c0c0"/>
<rect x="747" y="507" width="2" height="3" fill="#c0c0c0"/>
<rect x="749" y="509" width="2" height="1" fill="#c0c0c0"/>
<rect x="751" y="509" width="2" height="2" fill="#c0c0c0"/>
<rect x="753" y="509" width="2" height="5" fill="#c0c0c0"/>
<rect x="755" y="509" width="2" height="6" fill="#c0c0c0"/>
<rect x="757" y="509" width="2" height="7" fill="#c0c0c0"/>
<rect x="759" y="509" width="2" height="7" fill="#c0c0c0"/>
<rect x="761" y="509" width="2" height="8" fill="#c0c0c0"/>
<rect x="763" y="509" width="2" height="8" fill="#c0c0c0"/>
<rect x="765" y="509" width="2" height="7" fill="#c0c0c0"/>
<rect x="767" y="509" width="2" height="7" fill="#c0c0c0"/>
<rect x="769" y="509" width="2" height="7" fill="#c0c0c0"/>
<rect x="771" y="509" width="2" height="6" fill="#c0c0c0"/>
<rect x="773" y="509" width="2" height="6" fill="#c0c0c0"/>
<rect x="775" y="509" width="2" height="6" fill="#c0c0c0"/>
<rect x="777" y="509" width="2" height="6" fill="#c0c0c0"/>
<rect x="779" y="509" width="2" height="7" fill="#c0c0c0"/>
<rect x="781" y="509" width="2" height="9" fill="#c0c0c0"/>
<rect x="783" y="509" width="2" height="10" fill="#c0c0c0"/>
<rect x="785" y="509" width="2" height="11" fill="#c0c0c0"/>
<rect x="787" y="509" width="2" height="11" fill="#c0c0c0"/>
<rect x="789" y="509" width="2" height="10" fill="#c0c0c0"/>
<rect x="791" y="509" width="2" height="9" fill="#c0c0c0"/>
<rect x="793" y="509" width="2" height="9" fill="#c0c0c0"/>
<rect x="795" y="509" width="2" height="8" fill="#c0c0c0"/>
<rect x="797" y="509" width="2" height="7" fill="#c0c0c0"/>
<rect x="799" y="509" width="2" height="6" fill="#c0c0c0"/>
<rect x="801" y="509" width="2" height="6" fill="#c0c0c0"/>
<rect x="803" y="509" width="2" height="5" fill="#c0c0c0"/>
<rect x="805" y="509" width="2" height="5" fill="#c0c0c0"/>
<rect x="807" y="509" width="2" height="5" fill="#c0c0c0"/>
<rect x="809" y="509" width="2" height="4" fill="#c0c0c0"/>
<rect x="811" y="509" width="2" height="4" fill="#c0c0c0"/>
<rect x="813" y="509" width="2" height="3" fill="#c0c0c0"/>
<rect x="815" y="509" width="2" height="3" fill="#c0c0c0"/>
<rect x="817" y="509" width="2" height="3" fill="#c0c0c0"/>
<rect x="819" y="509" width="2" height="4" fill="#c0c0c0"/>
<rect x="821" y="509" width="2" height="4" fill="#c0c0c0"/>
<rect x="823" y="509" width="2" height="6" fill="#c0c0c0"/>
<rect x="825" y="509" width="2" height="9" fill="#c0c0c0"/>
<rect x="827" y="509" width="2" height="11" fill="#c0c0c0"/>
<rect x="829" y="509" width="2" height="11" fill="#c0c0c0"/>
<rect x="831" y="509" width="2" height="12" fill="#c0c0c0"/>
<rect x="833" y="509" width="2" height="12" fill="#c0c0c0"/>
<rect x="835" y="509" width="2" height="13" fill="#c0c0c0"/>
<rect x="837" y="509" width="2" height="15" fill="#c0c0c0"/>
<rect x="839" y="509" width="2" height="17" fill="#c0c0c0"/>
<rect x="841" y="509" width="2" height="18" fill="#c0c0c0"/>
<rect x="843" y="509" width="2" height="19" fill="#c0c0c0"/>
<rect x="845" y="509" width="2" height="21" fill="#c0c0c0"/>
<rect x="847" y="509" width="2" height="21" fill="#c0c0c0"/>
<rect x="849" y="509" width="2" height="21" fill="#c0c0c0"/>
<rect x="851" y="509" width="2" height="20" fill="#c0c0c0"/>
<rect x="853" y="509" width="2" height="19" fill="#c0c0c0"/>
<rect x="855" y="509" width="2" height="19" fill="#c0c0c0"/>
<rect x="857" y="509" width="2" height="18" fill="#c0c0c0"/>
<rect x="859" y="509" width="2" height="17" fill="#c0c0c0"/>
<rect x="861" y="509" width="2" height="16" fill="#c0c0c0"/>
<rect x="863" y="509" width="2" height="15" fill="#c0c0c0"/>
<rect x="865" y="509" width="2" height="15" fill="#c0c0c0"/>
<rect x="867" y="509" width="2" height="14" fill="#c0c0c0"/>
<rect x="869" y="509" width="2" height="13" fill="#c0c0c0"/>
<rect x="871" y="509" width="2" height="12" fill="#c0c0c0"/>
<rect x="873" y="509" width="2" height="12" fill="#c0c0c0"/>
<rect x="875" y="509" width="2" height="11" fill="#c0c0c0"/>
<rect x="877" y="509" width="2" height="11" fill="#c0c0c0"/>
<rect x="879" y="509" width="2" height="11" fill="#c0c0c0"/>
<rect x="881" y="509" width="2" height="11" fill="#c0c0c0"/>
<rect x="883" y="509" width="2" height="10" fill="#c0c0c0"/>
<rect x="885" y="509" width="2" height="9" fill="#c0c0c0"/>
<rect x="887" y="509" width="2" height="8" fill="#c0c0c0"/>
<rect x="889" y="509" width="2" height="6" fill="#c0c0c0"/>
<rect x="891" y="509" width="2" height="6" fill="#c0c0c0"/>
<rect x="893" y="509" width="2" height="5" fill="#c0c0c0"/>
<rect x="895" y="509" width="2" height="5" fill="#c0c0c0"/>
<rect x="897" y="509" width="2" height="5" fill="#c0c0c0"/>
<rect x="899" y="509" width="2" height="6" fill="#c0c0c0"/>
<rect x="901" y="509" width="2" height="6" fill="#c0c0c0"/>
<rect x="903" y="509" width="2" height="6" fill="#c0c0c0"/>
<rect x="905" y="509" width="2" height="7" fill="#c0c0c0"/>
<rect x="907" y="509" width="2" height="7" fill="#c0c0c0"/>
<rect x="909" y="509" width="2" height="8" fill="#c0c0c0"/>
<rect x="911" y="509" width="2" height="8" fill="#c0c0c0"/>
<rect x="913" y="509" width="2" height="9" fill="#c0c0c0"/>
<rect x="915" y="509" width="2" height="9" fill="#c0c0c0"/>
<rect x="917" y="509" width="2" height="10" fill="#c0c0c0"/>
<rect x="919" y="509" width="2" height="10" fill="#c0c0c0"/>
<rect x="921" y="509" width="2" height="11" fill="#c0c0c0"/>
<rect x="923" y="509" width="2" height="11" fill="#c0c0c0"/>
<rect x="925" y="509" width="2" height="11" fill="#c0c0c0"/>
<rect x="927" y="509" width="2" height="11" fill="#c0c0c0"/>
<rect x="929" y="509" width="2" height="11" fill="#c0c0c0"/>
</g>
<path d="M5.5 516V517M6.5 516V517M7.5 517V518M8.5 518V519M9.5 519V520M10.5 519V520M11.5 520V521M12.5 521V522M13.5 521V522M14.5 521V522M15.5 522V523M16.5 522V523M17.5 523V524M18.5 523V524M19.5 523V524M20.5 524V525M21.5 523V524M22.5 523V524M23.5 523V524M24.5 522V523M25.5 522V523M26.5 522V523M27.5 521V522M28.5 521V522M29.5 521V522M30.5 520V521M31.5 520V521M32.5 520V521M33.5 520V521M34.5 520V521M35.5 520V521M36.5 520V521M37.5 520V521M38.5 520V521M39.5 521V522M40.5 522V524M41.5 524V525M42.5 525V526M43.5 526V527M44.5 527V529M45.5 529V531M46.5 531V533M47.5 533V535M48.5 535V537M49.5 537V539M50.5 539V540M51.5 540V542M52.5 542V544M53.5 544V546M54.5 546V547M55.5 547V549M56.5 549V551M57.5 551V553M58.5 553V555M59.5 555V556M60.5 556V557M61.5 557V558M62.5 558V559M63.5 558V559M64.5 559V560M65.5 560V561M66.5 561V562M67.5 561V562M68.5 561V562M69.5 560V561M70.5 560V561M71.5 559V560M72.5 559V560M73.5 559V560M74.5 558V559M75.5 557V558M76.5 555V557M77.5 554V555M78.5 553V554M79.5 552V553M80.5 551V552M81.5 550V551M82.5 549V550M83.5 548V549M84.5 546V548M85.5 545V546M86.5 543V545M87.5 542V543M88.5 541V542M89.5 539V541M90.5 538V539M91.5 536V538M92.5 535V536M93.5 534V535M94.5 533V534M95.5 532V533M96.5 530V532M97.5 529V530M98.5 528V529M99.5 527V528M100.5 526V527M101.5 525V526M102.5 524V525M103.5 523V524M104.5 522V523M105.5 521V522M106.5 520V521M107.5 520V521M108.5 519V520M109.5 518V519M110.5 518V519M111.5 517V518M112.5 516V517M113.5 515V516M114.5 515V516M115.5 514V515M116.5 513V514M117.5 513V514M118.5 513V514M119.5 512V513M120.5 512V513M121.5 512V513M122.5 512V513M123.5 511V512M124.5 511V512M125.5 511V512M126.5 511V512M127.5 511V512M128.5 511V512M129.5 511V512M130.5 510V511M131.5 510V511M132.5 511V512M133.5 511V512M134.5 511V512M135.5 511V512M136.5 512V513M137.5 512V513M138.5 512V513M139.5 512V513M140.5 513V514M141.5 513V514M142.5 513V514M143.5 514V515M144.5 514V515M145.5 514V515M146.5 515V516M147.5 515V516M148.5 516V517M149.5 516V517M150.5 516V517M151.5 517V518M152.5 517V518M153.5 518V519M154.5 518V519M155.5 519V520M156.5 519V520M157.5 520V521M158.5 520V521M159.5 521V522M160.5 521V522M161.5 522V523M162.5 522V523M163.5 523V524M164.5 523V524M165.5 524V525M166.5 524V525M167.5 524V525M168.5 525V526M169.5 525V526M170.5 526V527M171.5 526V527M172.5 526V527M173.5 526V527M174.5 526V527M175.5 526V527M176.5 526V527M177.5 526V527M178.5 526V527M179.5 526V527M180.5 526V527M181.5 526V527M182.5 526V527M183.5 525V526M184.5 525V526M185.5 525V526M186.5 524V525M187.5 524V525M188.5 524V525M189.5 523V524M190.5 523V524M191.5 522V523M192.5 522V523M193.5 521V522M194.5 521V522M195.5 520V521M196.5 520V521M197.5 519V520M198.5 519V520M199.5 518V519M200.5 518V519M201.5 518V519M202.5 518V519M203.5 518V519M204.5 518V519M205.5 517V518M206.5 517V518M207.5 517V518M208.5 517V518M209.5 518V519M210.5 518V519M211.5 518V519M212.5 518V519M213.5 519V520M214.5 519V520M215.5 519V520M216.5 520V521M217.5 520V521M218.5 521V522M219.5 521V522M220.5 521V522M221.5 522V523M222.5 522V523M223.5 523V524M224.5 523V524M225.5 523V524M226.5 522V523M227.5 522V523M228.5 522V523M229.5 522V523M230.5 522V523M231.5 521V522M232.5 520V521M233.5 520V521M234.5 519V520M235.5 518V519M236.5 518V519M237.5 517V518M238.5 516V517M239.5 515V516M240.5 514V515M241.5 513V514M242.5 512V513M243.5 511V512M244.5 510V511M245.5 510V511M246.5 509V510M247.5 508V509M248.5 508V509M249.5 507V508M250.5 507V508M251.5 507V508M252.5 506V507M253.5 506V507M254.5 506V507M255.5 506V507M256.5 506V507M257.5 505V506M258.5 505V506M259.5 505V506M260.5 505V506M261.5 506V507M262.5 506V507M263.5 507V508M264.5 507V508M265.5 508V509M266.5 509V510M267.5 510V511M268.5 511V512M269.5 511V512M270.5 512V513M271.5 513V514M272.5 514V515M273.5 515V516M274.5 515V516M275.5 516V517M276.5 516V517M277.5 517V518M278.5 518V519M279.5 518V519M280.5 519V520M281.5 518V519M282.5 518V519M283.5 518V519M284.5 518V519M285.5 517V518M286.5 517V518M287.5 517V518M288.5 517V518M289.5 516V517M290.5 516V517M291.5 516V517M292.5 515V516M293.5 515V516M294.5 515V516M295.5 515V516M296.5 515V516M297.5 515V516M298.5 514V515M299.5 514V515M300.5 515V516M301.5 515V516M302.5 515V516M303.5 515V516M304.5 515V516M305.5 516V517M306.5 516V517M307.5 516V517M308.5 516V517M309.5 516V517M310.5 516V517M311.5 516V517M312.5 516V517M313.5 516V517M314.5 516V517M315.5 516V517M316.5 516V517M317.5 516V517M318.5 516V517M319.5 517V518M320.5 517V518M321.5 517V518M322.5 517V518M323.5 517V518M324.5 518V519M325.5 518V519M326.5 518V519M327.5 518V519M328.5 518V519M329.5 519V520M330.5 519V520M331.5 519V520M332.5 519V520M333.5 518V519M334.5 518V519M335.5 518V519M336.5 518V519M337.5 518V519M338.5 518V519M339.5 518V519M340.5 518V519M341.5 517V518M342.5 517V518M343.5 517V518M344.5 516V517M345.5 516V517M346.5 516V517M347.5 515V516M348.5 515V516M349.5 514V515M350.5 514V515M351.5 514V515M352.5 514V515M353.5 514V515M354.5 514V515M355.5 514V515M356.5 514V515M357.5 514V515M358.5 514V515M359.5 514V515M360.5 515V516M361.5 515V516M362.5 515V516M363.5 515V516M364.5 516V517M365.5 516V517M366.5 516V517M367.5 516V517M368.5 516V517M369.5 516V517M370.5 515V516M371.5 515V516M372.5 515V516M373.5 514V515M374.5 514V515M375.5 513V514M376.5 512V513M377.5 512V513M378.5 511V512M379.5 511V512M380.5 510V511M381.5 510V511M382.5 509V510M383.5 509V510M384.5 508V509M385.5 508V509M386.5 507V508M387.5 507V508M388.5 506V507M389.5 506V507M390.5 506V507M391.5 505V506M392.5 505V506M393.5 505V506M394.5 504V505M395.5 504V505M396.5 504V505M397.5 504V505M398.5 503V504M399.5 503V504M400.5 503V504M401.5 503V504M402.5 502V503M403.5 502V503M404.5 502V503M405.5 501V502M406.5 500V501M407.5 500V501M408.5 499V500M409.5 498V499M410.5 497V498M411.5 496V497M412.5 496V497M413.5 495V496M414.5 494V495M415.5 494V495M416.5 493V494M417.5 492V493M418.5 492V493M419.5 492V493M420.5 492V493M421.5 492V493M422.5 492V493M423.5 492V493M424.5 492V493M425.5 492V493M426.5 492V493M427.5 492V493M428.5 492V493M429.5 493V494M430.5 493V494M431.5 493V494M432.5 493V494M433.5 494V495M434.5 494V495M435.5 494V495M436.5 495V496M437.5 495V496M438.5 496V497M439.5 496V497M440.5 496V497M441.5 497V498M442.5 497V498M443.5 498V499M444.5 498V499M445.5 498V499M446.5 499V500M447.5 499V500M448.5 500V501M449.5 500V501M450.5 501V502M451.5 501V502M452.5 501V502M453.5 502V503M454.5 502V503M455.5 502V503M456.5 503V504M457.5 503V504M458.5 504V505M459.5 504V505M460.5 505V506M461.5 505V506M462.5 506V507M463.5 506V507M464.5 507V508M465.5 507V508M466.5 508V509M467.5 508V509M468.5 509V510M469.5 509V510M470.5 510V511M471.5 511V512M472.5 511V512M473.5 512V513M474.5 513V514M475.5 513V514M476.5 514V515M477.5 515V516M478.5 516V517M479.5 517V518M480.5 517V518M481.5 518V519M482.5 519V520M483.5 520V521M484.5 521V522M485.5 522V523M486.5 523V524M487.5 524V525M488.5 524V525M489.5 525V526M490.5 526V527M491.5 527V528M492.5 528V529M493.5 529V530M494.5 529V530M495.5 530V531M496.5 531V532M497.5 532V533M498.5 532V533M499.5 533V534M500.5 533V534M501.5 533V534M502.5 534V535M503.5 534V535M504.5 534V535M505.5 534V535M506.5 535V536M507.5 535V536M508.5 534V535M509.5 534V535M510.5 534V535M511.5 534V535M512.5 534V535M513.5 534V535M514.5 534V535M515.5 534V535M516.5 533V534M517.5 533V534M518.5 532V533M519.5 532V533M520.5 531V532M521.5 530V531M522.5 530V531M523.5 529V530M524.5 528V529M525.5 528V529M526.5 527V528M527.5 526V527M528.5 525V526M529.5 525V526M530.5 524V525M531.5 523V524M532.5 523V524M533.5 522V523M534.5 522V523M535.5 521V522M536.5 520V521M537.5 520V521M538.5 519V520M539.5 518V519M540.5 518V519M541.5 517V518M542.5 516V517M543.5 515V516M544.5 514V515M545.5 513V514M546.5 512V513M547.5 511V512M548.5 510V511M549.5 509V510M550.5 509V510M551.5 508V509M552.5 507V508M553.5 506V507M554.5 506V507M555.5 505V506M556.5 505V506M557.5 504V505M558.5 504V505M559.5 504V505M560.5 504V505M561.5 504V505M562.5 504V505M563.5 505V506M564.5 506V507M565.5 506V507M566.5 507V508M567.5 507V508M568.5 508V509M569.5 509V510M570.5 510V511M571.5 511V512M572.5 512V513M573.5 513V514M574.5 514V515M575.5 515V516M576.5 515V516M577.5 516V517M578.5 517V518M579.5 518V519M580.5 518V519M581.5 519V520M582.5 520V521M583.5 521V522M584.5 521V522M585.5 521V522M586.5 522V523M587.5 522V523M588.5 523V524M589.5 523V524M590.5 523V524M591.5 524V525M592.5 524V525M593.5 524V525M594.5 525V526M595.5 525V526M596.5 525V526M597.5 525V526M598.5 525V526M599.5 525V526M600.5 525V526M601.5 525V526M602.5 524V525M603.5 524V525M604.5 524V525M605.5 523V524M606.5 523V524M607.5 522V523M608.5 522V523M609.5 521V523M610.5 520V521M611.5 519V521M612.5 518V519M613.5 517V519M614.5 516V517M615.5 515V517M616.5 514V515M617.5 514V515M618.5 513V514M619.5 512V513M620.5 511V512M621.5 510V511M622.5 510V511M623.5 509V510M624.5 508V509M625.5 507V508M626.5 507V508M627.5 506V507M628.5 506V507M629.5 506V507M630.5 505V506M631.5 505V506M632.5 504V505M633.5 504V505M634.5 504V505M635.5 504V505M636.5 503V504M637.5 503V504M638.5 503V504M639.5 503V504M640.5 502V503M641.5 502V503M642.5 502V503M643.5 502V503M644.5 502V503M645.5 502V503M646.5 502V503M647.5 501V502M648.5 501V502M649.5 501V502M650.5 501V502M651.5 501V502M652.5 501V502M653.5 501V502M654.5 501V502M655.5 501V502M656.5 501V502M657.5 501V502M658.5 501V502M659.5 501V502M660.5 501V502M661.5 501V502M662.5 501V502M663.5 501V502M664.5 501V502M665.5 501V502M666.5 501V502M667.5 500V501M668.5 500V501M669.5 499V500M670.5 499V500M671.5 499V500M672.5 498V499M673.5 498V499M674.5 498V499M675.5 497V498M676.5 497V498M677.5 497V498M678.5 497V498M679.5 497V498M680.5 497V498M681.5 497V498M682.5 497V498M683.5 497V498M684.5 497V498M685.5 497V498M686.5 497V498M687.5 497V498M688.5 497V498M689.5 497V498M690.5 497V498M691.5 497V498M692.5 497V498M693.5 497V498M694.5 497V498M695.5 496V497M696.5 496V497M697.5 496V497M698.5 496V497M699.5 496V497M700.5 496V497M701.5 496V497M702.5 496V497M703.5 496V497M704.5 496V497M705.5 495V496M706.5 495V496M707.5 495V496M708.5 494V495M709.5 494V495M710.5 494V495M711.5 493V494M712.5 493V494M713.5 493V494M714.5 493V494M715.5 492V493M716.5 492V493M717.5 492V493M718.5 492V493M719.5 492V493M720.5 491V492M721.5 491V492M722.5 491V492M723.5 491V492M724.5 491V492M725.5 491V492M726.5 491V492M727.5 491V492M728.5 491V492M729.5 492V493M730.5 492V493M731.5 492V493M732.5 493V494M733.5 493V494M734.5 494V495M735.5 494V495M736.5 495V496M737.5 495V496M738.5 495V496M739.5 496V497M740.5 496V497M741.5 497V498M742.5 497V498M743.5 498V499M744.5 498V499M745.5 499V500M746.5 499V500M747.5 500V501M748.5 501V502M749.5 501V502M750.5 502V503M751.5 503V504M752.5 504V505M753.5 504V505M754.5 505V506M755.5 506V507M756.5 507V508M757.5 508V509M758.5 509V510M759.5 510V511M760.5 511V512M761.5 511V512M762.5 512V513M763.5 512V513M764.5 513V514M765.5 513V514M766.5 514V515M767.5 514V515M768.5 515V516M769.5 515V516M770.5 515V516M771.5 515V516M772.5 515V516M773.5 515V516M774.5 515V516M775.5 515V516M776.5 515V516M777.5 515V516M778.5 515V516M779.5 515V516M780.5 515V516M781.5 515V516M782.5 515V516M783.5 515V516M784.5 515V516M785.5 515V516M786.5 515V516M787.5 515V516M788.5 515V516M789.5 516V517M790.5 516V517M791.5 516V517M792.5 516V517M793.5 517V518M794.5 517V518M795.5 517V518M796.5 517V518M797.5 517V518M798.5 517V518M799.5 517V518M800.5 517V518M801.5 517V518M802.5 517V518M803.5 517V518M804.5 517V518M805.5 516V517M806.5 516V517M807.5 516V517M808.5 515V516M809.5 515V516M810.5 515V516M811.5 514V515M812.5 514V515M813.5 514V515M814.5 514V515M815.5 513V514M816.5 513V514M817.5 513V514M818.5 513V514M819.5 512V513M820.5 512V513M821.5 512V513M822.5 513V514M823.5 513V514M824.5 513V514M825.5 513V514M826.5 514V515M827.5 514V515M828.5 514V515M829.5 514V515M830.5 515V516M831.5 515V516M832.5 516V517M833.5 516V517M834.5 517V518M835.5 517V518M836.5 518V519M837.5 518V519M838.5 519V520M839.5 519V520M840.5 520V521M841.5 520V521M842.5 521V522M843.5 522V523M844.5 522V523M845.5 523V524M846.5 523V524M847.5 524V525M848.5 524V525M849.5 525V526M850.5 525V526M851.5 526V527M852.5 526V527M853.5 527V528M854.5 527V528M855.5 527V528M856.5 527V528M857.5 528V529M858.5 528V529M859.5 528V529M860.5 528V529M861.5 528V529M862.5 527V528M863.5 527V528M864.5 527V528M865.5 526V527M866.5 526V527M867.5 526V527M868.5 525V526M869.5 525V526M870.5 525V526M871.5 524V525M872.5 524V525M873.5 524V525M874.5 523V524M875.5 523V524M876.5 523V524M877.5 522V523M878.5 522V523M879.5 522V523M880.5 522V523M881.5 521V522M882.5 521V522M883.5 521V522M884.5 521V522M885.5 521V522M886.5 521V522M887.5 520V521M888.5 520V521M889.5 520V521M890.5 519V520M891.5 519V520M892.5 518V519M893.5 518V519M894.5 517V518M895.5 517V518M896.5 516V517M897.5 516V517M898.5 516V517M899.5 516V517M900.5 515V516M901.5 515V516M902.5 515V516M903.5 515V516M904.5 515V516M905.5 514V515M906.5 514V515M907.5 514V515M908.5 515V516M909.5 515V516M910.5 515V516M911.5 515V516M912.5 515V516M913.5 515V516M914.5 516V517M915.5 516V517M916.5 516V517M917.5 517V518M918.5 517V518M919.5 517V518M920.5 517V518M921.5 518V519M922.5 518V519M923.5 518V519M924.5 519V520M925.5 519V520M926.5 519V520M927.5 519V520M928.5 519V520" stroke="#ff0000" stroke-width="1" fill="none" shape-rendering="crispEdges"/>
<line x1="6" y1="597.5" x2="1167" y2="597.5" stroke="#c0c0c0" stroke-width="1" stroke-dasharray="3 3" shape-rendering="crispEdges"/>
<line x1="6" y1="631.5" x2="1167" y2="631.5" stroke="#c0c0c0" stroke-width="1" stroke-dasharray="3 3" shape-rendering="crispEdges"/>
<path d="M5.5 627V629M6.5 624V627M7.5 623V624M8.5 622V623M9.5 622V623M10.5 621V622M11.5 622V623M12.5 622V623M13.5 622V623M14.5 622V624M15.5 620V622M16.5 619V620M17.5 619V620M18.5 620V621M19.5 621V622M20.5 620V621M21.5 619V620M22.5 619V620M23.5 620V621M24.5 621V622M25.5 619V621M26.5 618V619M27.5 619V620M28.5 619V621M29.5 618V619M30.5 617V618M31.5 618V619M32.5 618V619M33.5 619V620M34.5 620V621M35.5 621V625M36.5 625V632M37.5 632V639M38.5 639V640M39.5 639V640M40.5 639V640M41.5 640V642M42.5 642V643M43.5 643V644M44.5 643V644M45.5 644V645M46.5 644V645M47.5 645V646M48.5 645V646M49.5 645V647M50.5 643V645M51.5 642V643M52.5 641V642M53.5 642V643M54.5 641V643M55.5 640V641M56.5 639V641M57.5 641V642M58.5 641V642M59.5 641V642M60.5 640V641M61.5 640V641M62.5 640V641M63.5 641V642M64.5 639V641M65.5 637V639M66.5 634V637M67.5 631V634M68.5 629V631M69.5 628V629M70.5 628V629M71.5 627V628M72.5 626V627M73.5 625V626M74.5 624V626M75.5 626V627M76.5 627V628M77.5 628V629M78.5 629V630M79.5 630V631M80.5 627V630M81.5 624V627M82.5 621V624M83.5 618V621M84.5 616V618M85.5 615V616M86.5 616V618M87.5 618V619M88.5 618V619M89.5 617V618M90.5 615V617M91.5 612V615M92.5 610V612M93.5 609V610M94.5 610V612M95.5 612V615M96.5 615V617M97.5 617V618M98.5 618V619M99.5 617V618M100.5 617V618M101.5 617V618M102.5 615V617M103.5 613V615M104.5 612V613M105.5 613V615M106.5 615V617M107.5 617V618M108.5 616V617M109.5 616V617M110.5 615V616M111.5 614V615M112.5 614V615M113.5 613V614M114.5 613V614M115.5 611V613M116.5 609V611M117.5 608V609M118.5 608V613M119.5 613V614M120.5 614V615M121.5 615V617M122.5 617V618M123.5 618V619M124.5 617V618M125.5 617V618M126.5 616V617M127.5 615V616M128.5 615V617M129.5 617V618M130.5 616V617M131.5 615V616M132.5 615V616M133.5 616V617M134.5 617V618M135.5 618V619M136.5 619V620M137.5 619V620M138.5 619V621M139.5 621V622M140.5 622V624M141.5 624V625M142.5 623V624M143.5 622V623M144.5 621V622M145.5 620V621M146.5 620V621M147.5 620V621M148.5 620V621M149.5 621V622M150.5 622V623M151.5 622V624M152.5 624V626M153.5 626V628M154.5 628V630M155.5 630V631M156.5 630V632M157.5 629V630M158.5 628V629M159.5 628V629M160.5 629V630M161.5 629V631M162.5 627V629M163.5 624V627M164.5 622V624M165.5 621V622M166.5 620V622M167.5 622V623M168.5 623V625M169.5 625V626M170.5 625V626M171.5 625V626M172.5 626V627M173.5 627V628M174.5 628V629M175.5 629V630M176.5 626V629M177.5 623V626M178.5 621V623M179.5 618V621M180.5 616V618M181.5 615V617M182.5 617V618M183.5 618V619M184.5 618V619M185.5 616V618M186.5 615V616M187.5 614V615M188.5 614V615M189.5 615V616M190.5 616V617M191.5 616V617M192.5 616V617M193.5 616V617M194.5 615V616M195.5 615V616M196.5 613V615M197.5 612V614M198.5 614V619M199.5 619V622M200.5 622V623M201.5 623V624M202.5 624V625M203.5 625V626M204.5 625V626M205.5 624V625M206.5 624V625M207.5 623V624M208.5 623V624M209.5 622V623M210.5 622V623M211.5 623V625M212.5 625V626M213.5 626V627M214.5 627V628M215.5 628V629M216.5 628V629M217.5 629V630M218.5 629V630M219.5 629V631M220.5 625V629M221.5 622V625M222.5 618V622M223.5 615V618M224.5 611V615M225.5 610V611M226.5 611V613M227.5 613V614M228.5 613V614M229.5 613V614M230.5 612V613M231.5 613V614M232.5 614V615M233.5 615V616M234.5 613V615M235.5 611V613M236.5 610V611M237.5 609V610M238.5 608V609M239.5 608V609M240.5 607V608M241.5 607V608M242.5 606V607M243.5 607V608M244.5 608V609M245.5 609V611M246.5 611V614M247.5 614V615M248.5 613V615M249.5 611V613M250.5 610V611M251.5 611V612M252.5 612V613M253.5 612V613M254.5 611V612M255.5 611V612M256.5 611V613M257.5 613V615M258.5 615V617M259.5 617V618M260.5 618V620M261.5 620V621M262.5 621V623M263.5 623V625M264.5 625V629M265.5 629V630M266.5 628V630M267.5 626V628M268.5 625V626M269.5 625V626M270.5 623V625M271.5 621V623M272.5 619V621M273.5 617V619M274.5 616V617M275.5 615V616M276.5 614V615M277.5 614V615M278.5 614V615M279.5 614V615M280.5 614V615M281.5 613V614M282.5 612V613M283.5 612V615M284.5 615V617M285.5 617V618M286.5 618V619M287.5 619V620M288.5 620V621M289.5 619V620M290.5 619V620M291.5 619V620M292.5 619V620M293.5 619V620M294.5 617V619M295.5 616V617M296.5 617V619M297.5 619V620M298.5 619V621M299.5 618V619M300.5 617V618M301.5 618V619M302.5 619V620M303.5 619V620M304.5 620V622M305.5 622V623M306.5 623V625M307.5 624V626M308.5 620V624M309.5 617V620M310.5 616V617M311.5 617V618M312.5 617V618M313.5 617V618M314.5 618V619M315.5 619V620M316.5 620V621M317.5 621V622M318.5 619V622M319.5 618V620M320.5 620V623M321.5 623V624M322.5 623V624M323.5 622V623M324.5 621V622M325.5 620V621M326.5 620V621M327.5 621V622M328.5 622V623M329.5 623V624M330.5 623V624M331.5 622V623M332.5 620V622M333.5 618V620M334.5 616V618M335.5 615V616M336.5 614V615M337.5 614V615M338.5 614V615M339.5 614V615M340.5 614V615M341.5 615V616M342.5 614V615M343.5 613V614M344.5 611V614M345.5 610V611M346.5 610V618M347.5 618V621M348.5 621V622M349.5 621V622M350.5 620V621M351.5 620V621M352.5 620V621M353.5 621V622M354.5 621V622M355.5 621V622M356.5 621V622M357.5 621V622M358.5 621V622M359.5 622V623M360.5 621V623M361.5 619V621M362.5 618V619M363.5 618V619M364.5 618V619M365.5 617V619M366.5 614V617M367.5 611V614M368.5 608V611M369.5 607V608M370.5 607V608M371.5 607V608M372.5 606V607M373.5 607V608M374.5 608V609M375.5 608V609M376.5 609V610M377.5 610V614M378.5 614V617M379.5 615V618M380.5 610V615M381.5 606V610M382.5 605V606M383.5 604V605M384.5 604V605M385.5 605V606M386.5 606V607M387.5 607V608M388.5 607V608M389.5 607V608M390.5 608V609M391.5 609V613M392.5 613V617M393.5 616V618M394.5 612V616M395.5 608V612M396.5 605V608M397.5 604V605M398.5 604V605M399.5 603V604M400.5 603V604M401.5 601V603M402.5 600V601M403.5 599V600M404.5 598V599M405.5 597V598M406.5 597V598M407.5 597V598M408.5 596V597M409.5 597V598M410.5 597V598M411.5 598V599M412.5 599V600M413.5 599V600M414.5 599V600M415.5 598V599M416.5 599V602M417.5 602V605M418.5 605V607M419.5 607V609M420.5 609V610M421.5 610V611M422.5 610V612M423.5 608V610M424.5 607V608M425.5 606V607M426.5 605V606M427.5 604V605M428.5 605V606M429.5 606V608M430.5 608V609M431.5 608V609M432.5 609V610M433.5 610V611M434.5 610V611M435.5 609V610M436.5 609V610M437.5 608V609M438.5 607V608M439.5 607V608M440.5 608V610M441.5 610V612M442.5 612V615M443.5 615V616M444.5 615V616M445.5 614V615M446.5 613V614M447.5 612V613M448.5 612V613M449.5 611V612M450.5 611V613M451.5 613V614M452.5 610V615M453.5 609V610M454.5 610V618M455.5 618V620M456.5 620V621M457.5 620V621M458.5 621V622M459.5 621V622M460.5 621V622M461.5 621V622M462.5 621V622M463.5 621V622M464.5 620V621M465.5 620V621M466.5 619V620M467.5 619V620M468.5 619V620M469.5 619V620M470.5 620V622M471.5 622V623M472.5 623V624M473.5 624V626M474.5 626V628M475.5 628V630M476.5 630V632M477.5 632V634M478.5 634V636M479.5 636V637M480.5 636V637M481.5 636V637M482.5 635V636M483.5 635V636M484.5 635V636M485.5 635V636M486.5 635V636M487.5 636V637M488.5 636V637M489.5 637V638M490.5 637V638M491.5 636V637M492.5 636V637M493.5 637V638M494.5 638V639M495.5 637V639M496.5 636V637M497.5 635V636M498.5 636V637M499.5 637V638M500.5 638V639M501.5 639V640M502.5 639V640M503.5 638V639M504.5 637V638M505.5 636V637M506.5 636V637M507.5 635V636M508.5 635V636M509.5 636V637M510.5 636V637M511.5 633V638M512.5 627V633M513.5 625V627M514.5 623V625M515.5 622V623M516.5 621V622M517.5 621V622M518.5 620V621M519.5 620V621M520.5 620V621M521.5 620V621M522.5 621V622M523.5 622V624M524.5 624V625M525.5 625V626M526.5 624V625M527.5 623V624M528.5 622V623M529.5 621V622M530.5 621V622M531.5 620V621M532.5 619V620M533.5 619V620M534.5 615V619M535.5 612V615M536.5 609V612M537.5 605V609M538.5 601V605M539.5 600V601M540.5 599V600M541.5 599V600M542.5 599V600M543.5 599V600M544.5 600V603M545.5 603V605M546.5 605V606M547.5 605V606M548.5 604V605M549.5 604V605M550.5 605V608M551.5 608V610M552.5 610V611M553.5 610V611M554.5 611V612M555.5 611V612M556.5 611V612M557.5 612V613M558.5 612V613M559.5 612V616M560.5 616V622M561.5 622V625M562.5 625V628M563.5 628V629M564.5 629V630M565.5 629V630M566.5 629V630M567.5 628V629M568.5 628V629M569.5 628V629M570.5 628V629M571.5 628V629M572.5 628V629M573.5 628V629M574.5 629V630M575.5 630V631M576.5 628V630M577.5 627V629M578.5 629V632M579.5 632V633M580.5 633V634M581.5 630V635M582.5 625V630M583.5 624V625M584.5 624V625M585.5 624V625M586.5 623V625M587.5 625V626M588.5 626V628M589.5 628V629M590.5 627V628M591.5 626V627M592.5 625V626M593.5 625V626M594.5 626V627M595.5 627V628M596.5 625V627M597.5 624V625M598.5 622V624M599.5 620V622M600.5 618V620M601.5 615V618M602.5 613V615M603.5 612V613M604.5 612V613M605.5 611V612M606.5 610V612M607.5 608V610M608.5 607V608M609.5 606V607M610.5 607V608M611.5 607V609M612.5 606V607M613.5 606V607M614.5 606V607M615.5 607V608M616.5 607V608M617.5 608V610M618.5 610V611M619.5 611V612M620.5 609V611M621.5 608V609M622.5 607V608M623.5 606V607M624.5 605V606M625.5 605V607M626.5 607V609M627.5 609V611M628.5 611V612M629.5 610V611M630.5 610V611M631.5 609V610M632.5 609V610M633.5 609V610M634.5 608V610M635.5 607V608M636.5 605V607M637.5 604V605M638.5 603V604M639.5 604V605M640.5 605V606M641.5 605V606M642.5 605V606M643.5 605V606M644.5 606V608M645.5 608V610M646.5 610V611M647.5 609V610M648.5 609V610M649.5 609V610M650.5 610V612M651.5 612V613M652.5 612V613M653.5 611V612M654.5 610V611M655.5 610V611M656.5 608V610M657.5 605V608M658.5 603V605M659.5 601V603M660.5 600V601M661.5 599V600M662.5 599V600M663.5 598V599M664.5 599V600M665.5 600V601M666.5 601V602M667.5 602V603M668.5 601V602M669.5 601V602M670.5 602V603M671.5 603V604M672.5 603V604M673.5 603V604M674.5 602V603M675.5 601V602M676.5 598V601M677.5 597V598M678.5 596V597M679.5 597V599M680.5 599V601M681.5 601V604M682.5 604V607M683.5 607V608M684.5 607V608M685.5 607V608M686.5 607V608M687.5 608V609M688.5 609V610M689.5 609V611M690.5 605V609M691.5 602V605M692.5 600V602M693.5 599V600M694.5 598V599M695.5 598V600M696.5 600V601M697.5 601V602M698.5 601V602M699.5 601V602M700.5 601V602M701.5 600V601M702.5 600V601M703.5 599V600M704.5 599V600M705.5 598V599M706.5 598V599M707.5 597V598M708.5 596V597M709.5 595V596M710.5 594V595M711.5 594V595M712.5 594V595M713.5 595V597M714.5 597V598M715.5 598V599M716.5 597V599M717.5 596V597M718.5 596V598M719.5 598V599M720.5 597V598M721.5 596V599M722.5 599V603M723.5 603V605M724.5 605V606M725.5 606V607M726.5 607V608M727.5 608V609M728.5 608V609M729.5 609V610M730.5 609V610M731.5 608V609M732.5 608V609M733.5 607V608M734.5 605V607M735.5 604V605M736.5 604V606M737.5 606V609M738.5 609V611M739.5 611V612M740.5 612V614M741.5 614V616M742.5 616V617M743.5 617V618M744.5 618V620M745.5 620V621M746.5 619V620M747.5 618V619M748.5 618V621M749.5 621V623M750.5 623V625M751.5 625V626M752.5 626V627M753.5 626V627M754.5 626V627M755.5 626V627M756.5 626V627M757.5 626V627M758.5 626V627M759.5 625V626M760.5 624V626M761.5 625V627M762.5 620V625M763.5 619V620M764.5 619V621M765.5 621V622M766.5 619V621M767.5 618V619M768.5 617V618M769.5 618V619M770.5 618V619M771.5 619V620M772.5 618V619M773.5 617V618M774.5 616V617M775.5 615V616M776.5 614V615M777.5 615V617M778.5 617V618M779.5 618V620M780.5 620V621M781.5 621V622M782.5 622V624M783.5 624V626M784.5 626V629M785.5 629V631M786.5 631V632M787.5 629V633M788.5 623V629M789.5 619V623M790.5 618V619M791.5 618V619M792.5 618V619M793.5 618V619M794.5 618V619M795.5 618V619M796.5 617V618M797.5 617V618M798.5 616V617M799.5 615V617M800.5 613V615M801.5 612V613M802.5 612V613M803.5 613V615M804.5 615V617M805.5 617V619M806.5 619V620M807.5 619V620M808.5 618V619M809.5 616V619M810.5 613V616M811.5 612V613M812.5 612V613M813.5 613V614M814.5 614V616M815.5 616V617M816.5 615V616M817.5 615V616M818.5 615V616M819.5 614V617M820.5 617V620M821.5 620V622M822.5 622V625M823.5 625V628M824.5 628V630M825.5 630V631M826.5 629V630M827.5 628V629M828.5 627V628M829.5 627V628M830.5 627V628M831.5 628V629M832.5 625V628M833.5 623V625M834.5 621V623M835.5 620V621M836.5 621V624M837.5 624V628M838.5 628V629M839.5 629V630M840.5 630V631M841.5 630V631M842.5 631V632M843.5 632V633M844.5 633V634M845.5 633V634M846.5 633V634M847.5 632V634M848.5 631V632M849.5 629V631M850.5 628V629M851.5 627V628M852.5 626V627M853.5 625V626M854.5 624V625M855.5 624V625M856.5 623V624M857.5 622V623M858.5 622V623M859.5 622V623M860.5 623V624M861.5 623V624M862.5 624V625M863.5 625V626M864.5 625V626M865.5 624V625M866.5 624V625M867.5 623V624M868.5 624V625M869.5 625V626M870.5 624V626M871.5 623V624M872.5 622V623M873.5 621V622M874.5 619V621M875.5 618V621M876.5 621V627M877.5 627V630M878.5 630V631M879.5 629V631M880.5 626V629M881.5 623V626M882.5 621V623M883.5 619V621M884.5 617V619M885.5 615V617M886.5 614V615M887.5 613V614M888.5 613V614M889.5 612V613M890.5 612V613M891.5 613V614M892.5 613V614M893.5 613V614M894.5 614V616M895.5 616V618M896.5 618V621M897.5 621V622M898.5 622V623M899.5 621V622M900.5 620V621M901.5 620V621M902.5 619V620M903.5 620V621M904.5 620V621M905.5 621V622M906.5 622V623M907.5 623V624M908.5 624V625M909.5 624V625M910.5 625V626M911.5 625V626M912.5 625V626M913.5 626V627M914.5 627V629M915.5 628V630M916.5 625V628M917.5 624V625M918.5 625V628M919.5 628V629M920.5 628V629M921.5 628V629M922.5 628V629M923.5 628V629M924.5 626V628M925.5 625V626M926.5 624V625M927.5 624V625M928.5 624V625" stroke="#1e90ff" stroke-width="1" fill="none" shape-rendering="crispEdges"/>
<g shape-rendering="crispEdges" fill="#000">
<rect x="4" y="22" width="1164" height="1"/>
<rect x="4" y="482" width="1164" height="1"/>
<rect x="4" y="22" width="1" height="461"/>
<rect x="1167" y="22" width="1" height="461"/>
<rect x="4" y="484" width="1164" height="1"/>
<rect x="4" y="568" width="1164" height="1"/>
<rect x="4" y="484" width="1" height="85"/>
<rect x="1167" y="484" width="1" height="85"/>
<rect x="4" y="570" width="1164" height="1"/>
<rect x="4" y="657" width="1164" height="1"/>
<rect x="4" y="570" width="1" height="88"/>
<rect x="1167" y="570" width="1" height="88"/>
<rect x="1168" y="50" width="2" height="1"/>
<rect x="1168" y="116" width="2" height="1"/>
<rect x="1168" y="149" width="2" height="1"/>
<rect x="1168" y="182" width="2" height="1"/>
<rect x="1168" y="215" width="2" height="1"/>
<rect x="1168" y="248" width="2" height="1"/>
<rect x="1168" y="281" width="2" height="1"/>
<rect x="1168" y="314" width="2" height="1"/>
<rect x="1168" y="380" width="2" height="1"/>
<rect x="1168" y="413" width="2" height="1"/>
<rect x="1168" y="446" width="2" height="1"/>
<rect x="1168" y="479" width="2" height="1"/>
<rect x="1168" y="83" width="2" height="1"/>
<rect x="1168" y="347" width="2" height="1"/>
<rect x="1168" y="486" width="1" height="1"/>
<rect x="1168" y="509" width="1" height="1"/>
<rect x="1168" y="567" width="1" height="1"/>
<rect x="1168" y="572" width="1" height="1"/>
<rect x="1168" y="656" width="1" height="1"/>
<rect x="5" y="658" width="1" height="3"/>
<rect x="69" y="658" width="1" height="3"/>
<rect x="133" y="658" width="1" height="3"/>
<rect x="197" y="658" width="1" height="3"/>
<rect x="261" y="658" width="1" height="3"/>
<rect x="325" y="658" width="1" height="3"/>
<rect x="389" y="658" width="1" height="3"/>
<rect x="453" y="658" width="1" height="3"/>
<rect x="517" y="658" width="1" height="3"/>
<rect x="581" y="658" width="1" height="3"/>
<rect x="645" y="658" width="1" height="3"/>
<rect x="709" y="658" width="1" height="3"/>
<rect x="773" y="658" width="1" height="3"/>
<rect x="837" y="658" width="1" height="3"/>
<rect x="901" y="658" width="1" height="3"/>
</g>
<g font-family="Liberation Sans, sans-serif" font-size="9.8px" fill="#000">
<text transform="translate(1173,53.8) scale(.952,1)" >1.21410</text>
<text transform="translate(1173,119.8) scale(.952,1)" >1.20660</text>
<text transform="translate(1173,152.8) scale(.952,1)" >1.20280</text>
<text transform="translate(1173,185.8) scale(.952,1)" >1.19910</text>
<text transform="translate(1173,218.8) scale(.952,1)" >1.19540</text>
<text transform="translate(1173,251.8) scale(.952,1)" >1.19160</text>
<text transform="translate(1173,284.8) scale(.952,1)" >1.18790</text>
<text transform="translate(1173,317.8) scale(.952,1)" >1.18410</text>
<text transform="translate(1173,383.8) scale(.952,1)" >1.17660</text>
<text transform="translate(1173,416.8) scale(.952,1)" >1.17290</text>
<text transform="translate(1173,449.8) scale(.952,1)" >1.16910</text>
<text transform="translate(1173,482.8) scale(.952,1)" >1.16540</text>
<rect x="1169" y="446" width="40" height="11" fill="#000" shape-rendering="crispEdges"/>
<rect x="1169" y="79" width="40" height="11" fill="#ff0000" shape-rendering="crispEdges"/>
<rect x="1169" y="168" width="40" height="11" fill="#ff0000" shape-rendering="crispEdges"/>
<rect x="1169" y="256" width="40" height="11" fill="#ff0000" shape-rendering="crispEdges"/>
<rect x="1169" y="342" width="40" height="11" fill="#00ff00" shape-rendering="crispEdges"/>
<rect x="1169" y="432" width="40" height="11" fill="#0000ff" shape-rendering="crispEdges"/>
<text transform="translate(1173,88) scale(.952,1)" fill="#fff">1.21010</text>
<text transform="translate(1173,177) scale(.952,1)" fill="#fff">1.20004</text>
<text transform="translate(1173,265) scale(.952,1)" fill="#fff">1.18998</text>
<text transform="translate(1173,351) scale(.952,1)" fill="#fff">1.18024</text>
<text transform="translate(1173,441) scale(.952,1)" fill="#fff">1.17002</text>
<text transform="translate(1173,455) scale(.952,1)" fill="#fff">1.16859</text>
<text transform="translate(1171,495) scale(.952,1)" >0.002947</text>
<text transform="translate(1171,513) scale(.952,1)" >0.00</text>
<text transform="translate(1171,564.8) scale(.952,1)" >-0.007151</text>
<text transform="translate(1171,581) scale(.952,1)" >100</text>
<text transform="translate(1171,601) scale(.952,1)" >70</text>
<text transform="translate(1171,635) scale(.952,1)" >30</text>
<text transform="translate(1171.5,654) scale(.952,1)" >0</text>
<text transform="translate(20,33.6) scale(.952,1)" >EURUSD,H4&#160; 1.16858 1.16862 1.16855 1.16859</text>
<text transform="translate(9,497) scale(.952,1)" >MACD(12,26,9) -0.001259 -0.001210</text>
<text transform="translate(9,583) scale(.952,1)" >RSI(14) 38.1749</text>
<text transform="translate(4.5,669.6) scale(.945,1)">14 Jun 2021</text>
<text transform="translate(68.5,669.6) scale(.945,1)">21 Jun 19:00</text>
<text transform="translate(132.5,669.6) scale(.945,1)">29 Jun 00:00</text>
<text transform="translate(196.5,669.6) scale(.945,1)">6 Jul 10:00</text>
<text transform="translate(260.5,669.6) scale(.945,1)">13 Jul 18:00</text>
<text transform="translate(324.5,669.6) scale(.945,1)">21 Jul 00:00</text>
<text transform="translate(388.5,669.6) scale(.945,1)">28 Jul 10:00</text>
<text transform="translate(452.5,669.6) scale(.945,1)">4 Aug 18:00</text>
<text transform="translate(516.5,669.6) scale(.945,1)">12 Aug 00:00</text>
<text transform="translate(580.5,669.6) scale(.945,1)">19 Aug 10:00</text>
<text transform="translate(644.5,669.6) scale(.945,1)">26 Aug 18:00</text>
<text transform="translate(708.5,669.6) scale(.945,1)">3 Sep 00:00</text>
<text transform="translate(772.5,669.6) scale(.945,1)">10 Sep 10:00</text>
<text transform="translate(836.5,669.6) scale(.945,1)">17 Sep 18:00</text>
<text transform="translate(900.5,669.6) scale(.945,1)">25 Sep 00:00</text>
</g>
<g shape-rendering="crispEdges"><rect x="11" y="29" width="1" height="1"/><rect x="10" y="30" width="3" height="1"/><rect x="9" y="31" width="5" height="1"/><rect x="8" y="32" width="7" height="1"/></g>
</svg>
<!-- one click trading panel -->
<div class="abs" style="left:6px;top:40px;width:223px;height:61px;background:#fff"></div>
<div class="abs pan" style="left:8px;top:42px;width:109px;height:57px;"></div>
<div class="abs pan" style="left:119px;top:42px;width:108px;height:57px;"></div>
<div class="abs" style="left:60px;top:42px;width:115px;height:24px;background:#fff"></div>
<div class="abs" style="left:117px;top:42px;width:2px;height:57px;background:#fff"></div>
<div class="abs" style="left:8px;top:42px;width:52px;height:1px;background:#b80000"></div>
<div class="abs" style="left:8px;top:42px;width:1px;height:57px;background:#b80000"></div>
<div class="abs" style="left:175px;top:42px;width:52px;height:1px;background:#b80000"></div>
<div class="abs" style="left:60px;top:66px;width:57px;height:1px;background:#c01010"></div>
<div class="abs" style="left:119px;top:66px;width:56px;height:1px;background:#c01010"></div>
<div class="abs" style="left:12px;top:65px;width:44px;height:1px;background:#900000"></div>
<div class="abs" style="left:12px;top:66px;width:44px;height:1px;background:#f06060"></div>
<div class="abs" style="left:179px;top:65px;width:44px;height:1px;background:#900000"></div>
<div class="abs" style="left:179px;top:66px;width:44px;height:1px;background:#f06060"></div>
<div class="lbl" style="left:20px;top:48px;">SELL</div>
<div class="lbl" style="left:188px;top:48px;transform:scaleX(.99)">BUY</div>
<svg class="abs" style="left:0;top:0" width="240" height="110" font-family="Liberation Sans, sans-serif">
 <defs><linearGradient id="pg" gradientUnits="userSpaceOnUse" x1="0" y1="42" x2="0" y2="99"><stop offset="0" stop-color="#fa5050"/><stop offset=".48" stop-color="#d62626"/><stop offset="1" stop-color="#b00202"/></linearGradient></defs>
 <g fill="#fff" font-size="35.5px" stroke="url(#pg)" stroke-width="0.9">
  <text transform="translate(55,94.4) scale(.9,1)">86</text>
  <text transform="translate(166,94.4) scale(.9,1)">87</text>
 </g>
 <g fill="#fff" font-size="12px" font-weight="bold">
  <text x="28" y="94">1.16</text><text x="95" y="78">2</text>
  <text x="138" y="94">1.16</text><text x="206" y="78">2</text>
 </g>
</svg>
<!-- spinner -->
<div class="abs" style="left:62px;top:42px;width:109px;height:21px;border:1px solid #abadb3;background:#fff;box-sizing:content-box"></div>
<div class="abs" style="left:64px;top:44px;width:19px;height:19px;background:linear-gradient(#f2f2f2,#ebebeb 45%,#dddddd 50%,#cfcfcf);box-shadow:0 0 0 1px #c8c8c8 inset"></div>
<div class="abs" style="left:152px;top:44px;width:19px;height:19px;background:linear-gradient(#f2f2f2,#ebebeb 45%,#dddddd 50%,#cfcfcf);box-shadow:0 0 0 1px #c8c8c8 inset"></div>
<svg class="abs" style="left:0;top:0" width="240" height="110"><path d="M70.5 51.5h6l-3 3.5z" fill="#4060c8"/><path d="M158.5 55h6l-3-3.5z" fill="#4060c8"/></svg>
<div class="abs" style="left:100px;top:47px;width:48px;text-align:right;font-size:12px;line-height:12px;color:#000">3.00</div>
<div class="abs" style="left:0;top:678px;width:1209px;height:1px;background:#e3e3e3"></div>
<!-- bottom tabs -->
<div id="tabs" class="abs">
  <div class="abs" style="left:0;top:0;width:1209px;height:1px;background:#fff"></div>
  <div class="abs" style="left:0;top:1px;width:1209px;height:1px;background:#000"></div>
  <div class="abs" style="left:0;top:2px;width:1209px;height:1px;background:#fafafa"></div>
  <div class="abs" style="left:0;top:2px;width:2px;height:18px;background:#a0a0a0"></div>
  <div class="abs" style="left:0;top:20px;width:1209px;height:1px;background:#fafafa"></div>
  <div class="abs" style="left:6px;top:1px;width:92px;height:19px;background:#fff;box-sizing:border-box;border:1px solid #000;border-top:none"></div>
  <div class="abs" style="left:98px;top:3px;width:1px;height:17px;background:#d8d8d8"></div>
  <div class="abs" style="left:7px;top:0;width:90px;height:3px;background:#fff"></div>
  <span style="left:18px;color:#000;transform-origin:0 0;transform:scaleX(.985)">EURUSD,H4</span>
  <span style="left:109px">AUDUSD,Daily</span><i style="left:201px"></i>
  <span style="left:212px">USDCHF,H4</span><i style="left:290px"></i>
  <span style="left:301px">USDCAD,Daily</span><i style="left:394px"></i>
  <span style="left:404px">USDCNH,Daily</span><i style="left:498px"></i>
  <span style="left:510px">UKOil,Daily</span><i style="left:586px"></i>
  <span style="left:596px">DJ30,H1</span><i style="left:654px"></i>
  <span style="left:666px">USDX,H1</span><i style="left:730px"></i>
  <span style="left:741px">XAUUSD,H4</span><i style="left:822px"></i>
  <span style="left:834px">GBPUSD,H1</span><i style="left:913px"></i>
  <svg class="abs" style="left:1170px;top:3px" width="39" height="16"><path d="M13 7L17 3.2V10.8z" fill="#9a9a9a"/><path d="M35.5 7L32 3.2V10.8z" fill="#9a9a9a"/></svg>
</div>
</body></html>
